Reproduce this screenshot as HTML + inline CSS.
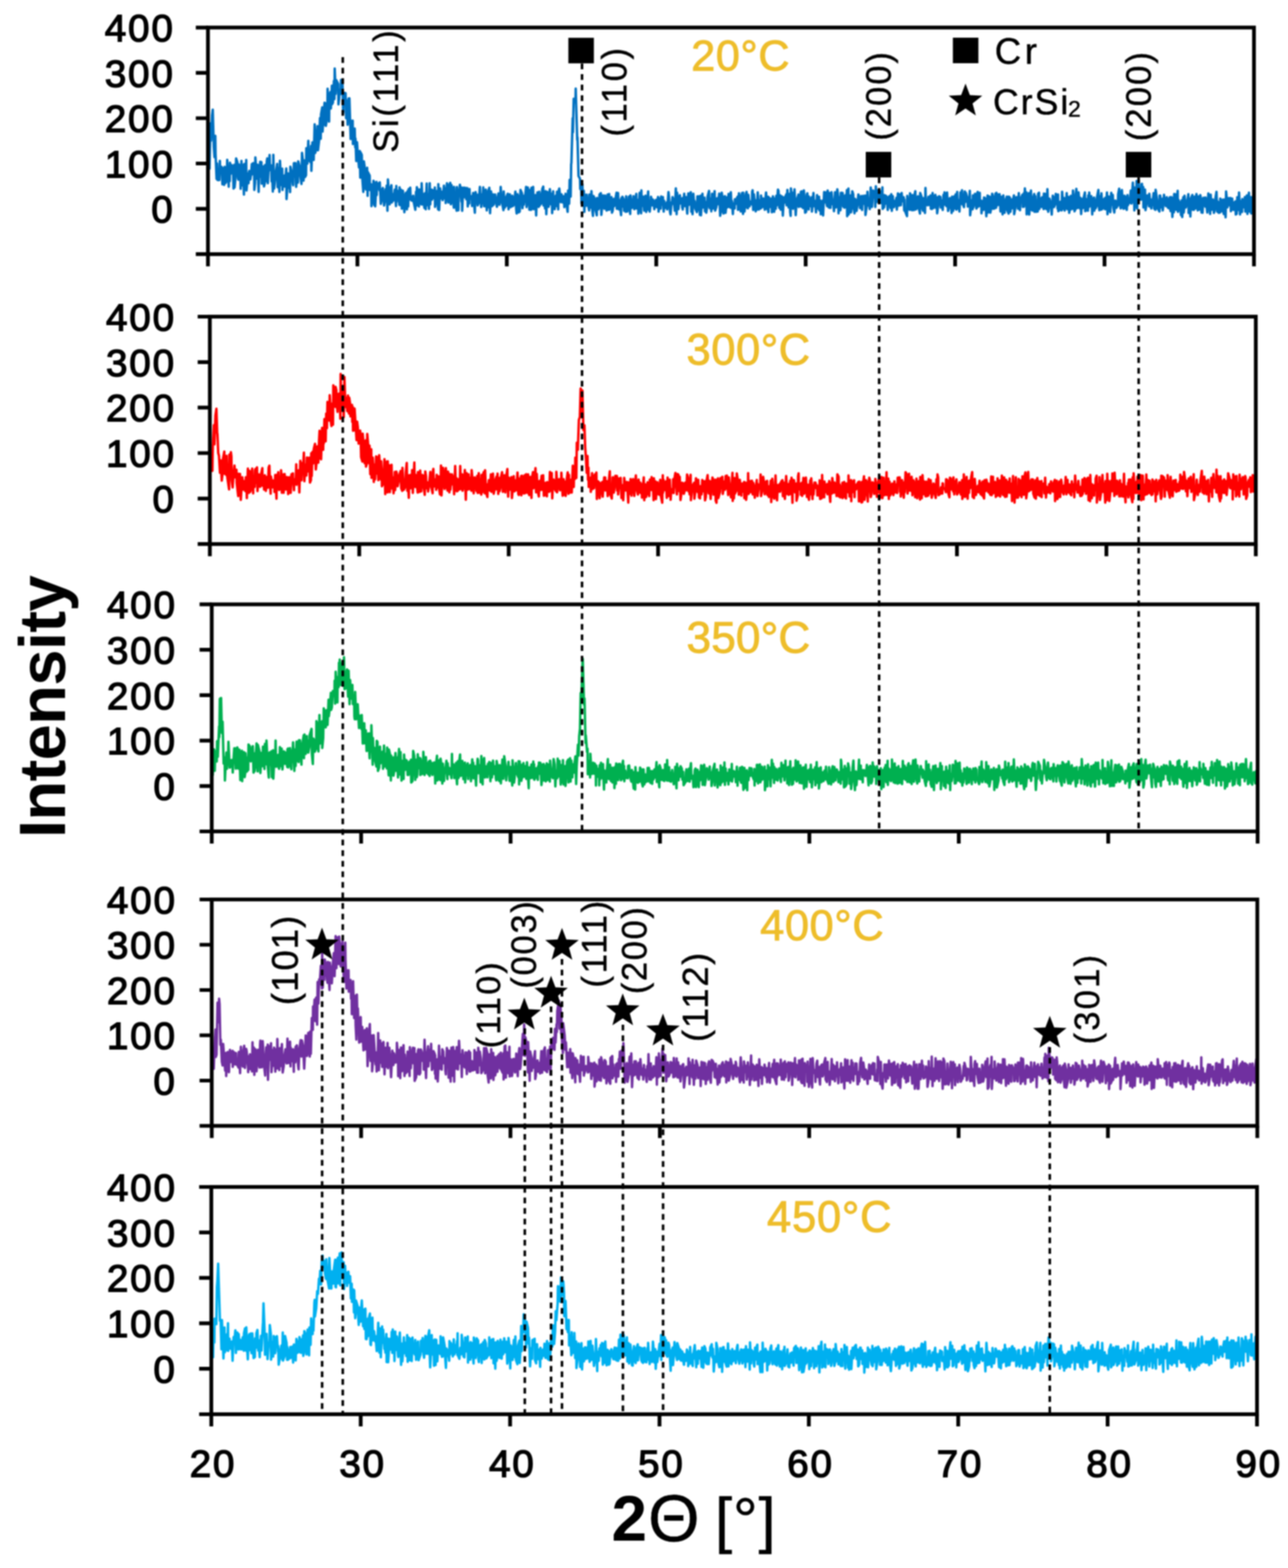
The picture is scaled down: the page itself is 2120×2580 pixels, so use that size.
<!DOCTYPE html>
<html><head><meta charset="utf-8"><title>XRD patterns</title>
<style>html,body{margin:0;padding:0;background:#fff;}svg{display:block;filter:blur(1px);}</style></head><body>
<svg width="2120" height="2580" viewBox="0 0 2120 2580" font-family="'Liberation Sans', Arial, sans-serif">
<rect width="2120" height="2580" fill="#fff"/>
<defs>
<clipPath id="c0"><rect x="342.3" y="45.3" width="1721.7" height="372.9"/></clipPath>
<clipPath id="c1"><rect x="345.4" y="521.0" width="1721.6" height="374.2"/></clipPath>
<clipPath id="c2"><rect x="348.5" y="994.4" width="1721.5" height="373.6"/></clipPath>
<clipPath id="c3"><rect x="348.5" y="1480.0" width="1721.0" height="372.5"/></clipPath>
<clipPath id="c4"><rect x="347.8" y="1953.0" width="1721.2" height="374.0"/></clipPath>
</defs>
<path clip-path="url(#c0)" d="M342.3 294.6l.4 -36.8 2.1 19.8 1.7 -74.6 .8 28.4 1.7 -41.7 1.2 -9.1 1.7 60.7 1.2 17.2 1.3 -35 .4 29.6 1.7 41.3 .8 -25.4 .9 27.3 2.9 0 .8 -31.6 .4 16.7 2.1 -5.8 .4 -1 1.3 28.7 1.6 -26.5 1.3 27.4 .8 -29.8 1.3 26.8 2.1 -3.8 .8 -34.4 2.5 44.2 .4 -33.5 1.3 24.3 .4 -30.2 1.2 18.2 1.3 -14.5 2.5 8.7 .8 30.1 .9 -39.1 .8 37.4 1.7 -18.1 .8 -29.8 2.1 5.9 1.2 26.9 .5 2.1 .8 -25.1 2.1 7.9 .8 32.2 1.3 -45.8 1.2 40.3 1.3 -33.9 1.6 48.9 .9 -50.3 1.6 34 1.3 -40.5 .4 50.2 2.5 -28.2 .8 16.3 1.3 -20.4 1.7 14 1.2 -8.1 1.3 -17.2 .8 16.9 1.3 -18.4 1.6 .4 .4 43.6 1.3 -11.3 .4 -42.2 2.5 35 1.3 -23 1.6 44.8 .9 -38.6 1.2 13.7 .4 -24.5 2.1 .4 .4 35.6 2.5 -28.3 1.3 32.7 1.2 -4.8 .5 -30.4 2.1 26.5 .8 -32.7 .8 -4.7 .9 40.9 2.9 -46.5 .8 24.7 2.1 -7.5 .4 26.2 .4 -18.8 1.7 35.6 .8 -60.4 1.3 55.5 1.2 -10.9 2.1 -18.7 1.7 -10.9 .8 38.1 1.3 -31.3 .8 29 .8 10.2 .9 -51.3 2.1 40 1.6 -27 .5 35 1.2 -18.8 2.1 -4.8 .4 18 2.5 -29.7 .4 50.4 .9 -12.3 1.6 -30 1.7 23.8 .4 -19.5 1.3 26.5 .4 -41.9 2.1 9.3 2.1 19.6 .4 1.6 1.2 -36.2 2.9 0 .5 32.8 .4 6.1 1.6 -29.2 1.3 22.2 .4 -35 2.9 10.5 .5 11.7 2 15.1 .9 -51.2 1.6 13.3 .9 32.4 1.6 -33.1 .9 27.2 1.6 -3 .5 -44.5 1.2 9.4 .4 16.1 1.7 -37.5 .8 30.6 2.5 4.3 1.3 -26.7 .4 41.1 1.7 -46.9 1.6 3 .5 26.1 1.6 -58.7 .9 47.2 1.6 -6 1.3 -25.7 .8 -12.5 .9 39.6 2 -17.1 1.3 -35.9 1.2 34 .5 -40.1 2 -11.5 .5 39.9 3.3 -47.4 .4 36.3 1.3 -35.3 .4 37 2.5 -15.7 .4 -45.4 2.5 54.1 .4 -38 1.7 -10.5 .8 26.9 1.7 -37.6 .4 30.4 1.3 -2.8 1.6 -35.5 .9 29.9 .4 -50.2 1.7 41.7 .8 -22.7 3.3 6.4 .4 33.7 1.3 -10.6 .4 -13.5 2.1 6.9 .4 -23 2.5 8.1 .9 38.6 .4 7.1 .4 -32.7 3.3 .6 .9 41.2 1.6 -29.1 .9 39.8 1.6 -43.1 .5 37.3 .8 -37.6 2.1 66.9 .4 -30.3 1.2 25.1 1.7 -25.1 .4 38.6 2.9 -25.5 .9 31 .4 -14.4 1.3 36.8 1.2 -31 1.3 19.5 2 22.1 1.3 -27 .8 43.7 .4 -41.6 2.1 4.3 .9 39.1 1.6 21.7 .9 -50.3 1.2 8.5 2.1 37.8 .8 -9.6 1.3 -26.1 .8 46.2 .4 -39.1 3 5.9 .4 23.7 2.1 -9.4 .4 36 2.9 -24.5 .4 -17.4 .9 1.9 .4 37.7 1.6 2.5 2.1 -40.2 .4 21.7 .5 -15.2 2.5 -3.9 1.6 11.2 .4 -13.1 1.7 35.5 1.3 -6.2 .8 -17 1.3 -3 2 28.8 1.7 -9.1 .8 -17.7 1.3 13.3 .4 -19 1.3 41.2 .8 -51.5 2.9 40.9 .9 -25.5 2 -5.8 .5 28.3 .8 -14.2 .8 11.8 1.3 -1.4 2.1 -17.3 2 26.9 .5 -32.9 .4 26.2 1.2 -18.5 2.1 2 1.3 21.2 .4 -28.7 .4 29.2 2.1 -25.2 1.2 31 1.7 -29.5 1.3 13.5 1.2 21.9 1.3 -24.9 1.2 -7.1 1.7 27.2 1.2 -30.1 .9 25.5 .8 -28.9 1.3 17.5 1.2 -19.7 .8 19 1.7 2.5 1.7 -6.9 .8 -1.1 .4 8.5 3 14.4 1.2 -29.6 .8 22.8 .5 -30.2 2.9 8.7 .4 23 1.2 -28 .9 19.1 2.1 5.4 .4 -34.9 1.7 35 .8 -17.4 2.1 23.2 1.2 -24.4 .9 26.5 1.6 -42.4 .9 35.7 1.2 -18.2 1.7 24.3 1.2 -42.3 .9 34.8 .8 -23.5 1.3 -.6 .8 16.4 1.7 -15.6 2 13.3 .9 -17.6 .4 31.8 2.5 -26.2 1.2 13.4 1.3 16.8 .4 -41.5 1.3 42.7 1.6 -35.7 1.3 16.5 .4 -11.5 2.1 4.2 .4 10.2 2.1 -23.9 .4 20.7 2.1 -16.1 .4 24.1 2.1 -32.6 1.7 27.5 .8 4.3 .4 -27 2.5 -5.5 .9 35.3 .8 -3.6 .4 -27.9 3.8 37.2 .4 -34.2 .4 3.6 .4 12.7 3.4 22.9 .4 -39 2.5 38.1 .4 -33.2 .4 8.4 1.7 -17.1 2.5 27.9 .4 -23.4 .8 38.3 1.7 -37.6 1.7 -.4 .4 15.8 2.1 -15.4 .8 18.6 1.7 -18.2 .8 30.2 2.1 -15.4 .4 10.4 .4 -23.8 .4 16.8 3.4 -5.1 .4 16.2 .8 -3.9 .9 -17.5 2.9 32.5 .8 -33.5 .4 -.5 1.7 18 .8 -13.8 .9 17.8 1.6 -3.7 2.1 -26.9 2.1 33.2 .4 -20.8 1.7 2.5 .4 12.4 .9 -26.4 1.2 30.9 2.5 -.1 .4 -27.2 1.7 34.3 1.2 -15.7 .5 10.6 .4 -25.7 2.1 -6.4 1.2 41.8 1.7 -35.7 1.7 24.2 1.6 -19.6 .9 17.3 1.2 -7 1.3 -10 .8 6.2 1.3 9.5 .8 4.5 1.7 -16.3 .8 -5.6 1.7 18.7 1.2 -6.9 .8 -22.6 1.3 16.5 1.7 13.5 1.6 8.3 .4 -30.8 1.7 26.8 1.3 -17.1 .8 14.3 1.3 -16.6 1.6 -3.5 1.3 25.5 .8 -7.6 1.3 -17 1.6 21 1.3 -16.1 1.2 -2.5 .9 16.9 1.6 -2.1 1.7 -14.2 .8 -7.5 1.3 28.8 .8 7.2 1.3 -31.7 1.6 5 .5 24.9 1.6 -1.4 1.3 -35.5 2.5 5.5 .8 24.5 1.3 -20.4 .8 14.8 .8 -15.1 .5 10.3 2.5 -24.7 .8 33.2 2.1 -32.2 1.2 28.2 .9 -24.1 .4 32.5 2.9 .1 .4 -36.2 1.7 34.3 1.2 -35.9 .9 36.8 1.2 -18.6 1.7 -4.5 1.2 33.4 .5 -15.5 1.6 -22.5 2.1 24 .9 -24.9 .8 22.5 .8 -18.5 1.3 16 2.1 -24.9 1.6 -3.6 .4 31 2.1 -14 .4 18.9 .9 -28.4 1.2 37.9 1.7 -36.7 .8 21.3 1.3 3 2.1 -28.9 1.2 24.7 .4 -17.6 1.7 9.6 .4 22.8 1.7 -35.9 .4 28.7 2.1 .7 1.7 -22.3 1.2 17.1 .9 -23.6 2 29.1 .5 -29.8 1.2 -4.5 2.1 18.8 .4 3.8 1.3 -13.1 2.1 13.5 1.2 -10.1 .4 .6 .9 17.1 2 -22.1 1.3 15.8 2.1 14.1 .8 -35.1 1.7 21.7 .8 -39.2 1.7 27.5 .8 -53 .4 -2.5 2.1 -73.5 .4 23.2 1.3 -55.1 2.9 5.4 .4 -22.2 .4 14.5 2.1 69.9 .4 -4.1 1.7 63.4 2.5 4.8 .4 16.6 1.3 -10.6 .8 34.7 1.3 -32.3 1.6 34.9 .9 -23.6 .8 34.6 1.3 -28.2 2 18.1 .5 -18.2 1.6 12.7 2.5 13.2 .5 -26.3 .8 12 1.7 9.8 .8 -27.1 1.7 34.1 .8 6.5 .8 -32.8 2.1 4.5 .4 14.9 3 12.5 .4 -28.5 .8 1.3 1.3 17.5 .8 -1.9 1.2 -22.6 2.1 -2.3 .9 35.8 1.2 -12.9 1.7 -19.3 1.7 2.5 .4 19.5 1.2 -21.7 1.3 16.2 1.2 8.5 1.7 -26.4 1.2 25.2 1.3 -25.9 .4 25.7 .4 -18.5 2.9 -2.1 .9 25.5 1.2 -3.3 1.7 -19.3 .4 4.2 .4 7.7 3.8 -22.2 .4 26.5 1.7 -3.2 .4 -22.8 1.2 27 .5 -15.6 3.3 25.1 .4 -27.9 .4 15.1 1.3 -17.5 2.1 4.2 .8 18.9 2.1 -17.9 .4 19.6 .8 -25.4 2.1 24.9 2.1 -14.7 .4 -9.7 2.1 28.4 .4 -30.5 .9 7.5 1.2 13.2 2.1 -5.2 .8 -14.3 .5 8.5 .8 13 3.3 -25.2 .5 24.1 2 -7 .5 -7.2 .4 22.7 2.1 -34.3 .8 19.2 1.7 14.6 .4 -37.9 .4 26.2 2.5 -16 1.7 23.2 1.6 -2.2 .5 -22.5 .8 5.9 .4 20.9 3.3 -33.7 .5 30.1 .8 -9 1.2 12.2 1.3 -10.6 .8 -14 2.5 14.2 .5 -9.7 1.2 2.5 1.3 13.5 2.5 -15.2 .8 11.4 .8 .5 1.7 -15.7 .4 -1.1 .8 24.2 2.1 -21.5 1.3 16.5 .8 -20.1 2.1 13.2 .8 -12.2 1.3 23.9 .8 -17.7 1.3 11.9 2.1 -3.9 1.2 -5.7 .4 11.9 2.1 -28.6 .8 7.4 1.7 25.3 .9 4 1.6 -19.6 .4 3.3 1.3 -12.1 1.7 4.8 1.6 13.1 .4 4.5 1.7 -36.8 1.3 42.5 .8 -35.4 2.1 27.3 1.2 -12.2 1.3 -10.8 .8 13.4 2.5 -8 .4 14.9 .5 -15.5 .4 18.6 2.5 -26 .8 20.4 2.1 -14.8 1.3 19.1 .8 8.2 1.7 -33.3 .8 18.8 .4 -15.8 2.9 -5 .9 32.1 .8 -23.6 1.2 27.7 1.3 -33.7 1.3 17.9 .8 -6 1.2 12.7 2.5 5.5 .9 -25.8 1.6 22.4 .9 -22.4 1.6 30.5 .9 -27.5 .4 -4.1 .4 32.3 2.5 -35.5 .9 22.6 2.5 -16.1 .8 22.5 .8 -15.6 1.3 17.7 1.6 -11 .5 -15.3 2.5 -9.5 .8 26.3 .4 2.2 1.3 -15.3 1.2 20.4 1.3 -28.9 1.2 24.5 2.1 -14.3 .8 -14.6 .9 32.2 2.1 -6.4 .4 -13.6 1.6 -.6 .5 10 2.1 -17.4 1.6 36.5 2.1 -15.7 .4 -22.5 .9 5.5 1.2 26 .8 2.9 1.3 -27.6 1.2 -.8 .9 27.4 2.9 -25.8 .4 16.6 1.7 -22 .4 20.3 2.1 2 1.2 -25.1 1.3 26.2 .4 -12.1 1.7 21.8 .8 -17.4 2.1 8.2 .4 -15.2 1.7 7.7 1.7 -9.8 1.2 -2.2 .4 21.7 1.7 -27.3 1.7 27.2 .8 -23.4 .4 26.2 2.1 -30.4 1.7 34.5 .4 -34.9 2.1 30.9 .8 -12.3 1.7 -17.2 .8 -2.8 .8 25.8 1.3 1.1 .8 -22 2.1 18.8 .4 -8.2 3.4 5.2 .4 -20.7 .8 -2.6 .9 32.4 1.2 -25.7 1.7 15.5 1.2 12.5 1.7 -18.5 .4 15.6 1.3 -28.5 2 28.4 .5 -15.4 2.5 13.6 .4 -21.3 .8 8.4 .9 10.8 2 -14.3 1.3 11.6 1.2 6.9 1.7 -24.7 .4 -3.7 2.1 27.9 1.3 -20.9 .4 25.4 1.2 -24.1 1.7 15.6 2.1 -13.9 .8 22.5 1.3 -3.6 .4 -22.7 2.1 25.5 .4 -21.7 2.1 17 .8 -21.4 .9 15.9 2 -26.3 .9 2.3 1.2 27.8 1.7 -20.6 .8 23.7 2.1 -21.9 .8 15.5 .5 16 1.6 -29.8 1.7 8.3 .8 -9.7 1.7 -3.8 .4 18.1 1.3 -25.3 2.1 28.8 1.6 -22.3 .9 29.9 .8 6.4 .4 -45.4 3.4 33.5 .4 -26.5 1.2 16.5 .9 -21.9 .8 15.6 1.2 26.9 1.3 -20.2 1.2 -6.8 2.1 -6.9 .4 20.3 3 -4.6 .4 -20.1 .8 24.5 .4 -25.5 2.5 27.8 1.3 -29.3 .8 8.7 1.3 28 1.6 -1.2 1.3 -28.4 .8 -2.2 .4 24.9 1.7 1.7 .4 -21.4 3 16.1 1.2 -11.6 .4 -3.4 .4 23.7 2.5 -30.5 .9 21.6 1.6 -8.7 1.7 18.9 1.7 -28.5 .4 13 1.7 9.4 1.2 -19.5 .4 22.1 1.3 -16.3 1.2 23 1.7 -21 1.7 -1.8 .4 24.7 1.7 -38.4 .8 17 1.7 -16.6 1.6 19.3 .9 3.4 .8 -25.8 2.1 28.2 .8 -24.2 1.7 24.6 .4 -19.5 1.3 -6.2 2 20 .5 -6.2 1.6 17.5 1.7 -31.3 .4 24.2 1.3 .8 2.1 -29.9 1.2 10.5 .8 29 .9 -26.4 2.1 21.5 .4 -2.8 .4 -26 2.9 .4 .9 22 2 2.1 .5 -19.3 .8 -1 .8 19.6 2.1 -28.3 .4 43 2.1 -45.4 .4 42.6 3 -31.3 .8 27.9 .8 -5 1.3 -29.8 1.6 5.1 .5 18.2 1.6 13 .9 -23.8 1.6 2.6 .9 17.3 1.2 -8.7 1.7 -18.5 .8 1.9 2.1 20.7 .4 -.9 1.7 -19.1 1.2 22.9 .9 -19.8 1.2 -3.3 2.1 13.7 .8 -14.3 .5 32 2.5 -17.2 .8 -21.1 1.3 22.7 .8 -8.8 1.7 14.6 1.6 -35.5 1.3 13 .8 19 1.3 -16.6 .4 -10.4 3.3 3 .4 24.1 .9 -33.9 1.6 26 1.3 -19.3 1.2 15.7 .5 -15.2 2 19.4 .9 -18.1 1.6 19.1 1.7 -25.9 .4 35.4 2.5 -2.9 .5 -19.9 .8 15 1.2 -13.9 2.1 2.2 .9 16.7 .4 4.6 1.2 -18.6 1.7 -4.3 1.7 19.7 1.2 -22.7 .9 27.3 1.6 -24.1 .9 15.5 1.2 2.5 .4 -10.4 1.7 7.2 1.7 -12.1 .8 19.4 1.7 -26.7 1.2 1.8 .4 18.5 2.5 -18.9 .9 18.1 1.2 -20.3 .9 13.5 2.5 -6.4 .8 21.8 .4 -18 .4 17.4 3.8 9.9 .4 -33.4 .4 3.9 1.3 14.3 2.1 4.7 .8 -27.1 1.2 6 .9 21.1 1.2 .8 .4 -25 2.5 24.9 1.3 -26 1.2 -5.2 .5 30.1 1.6 -1.3 2.1 -20.5 .4 9.3 1.7 13.2 1.3 6 .4 -33.8 2.1 5.5 .8 17.5 1.7 6 .4 -20.7 2.9 24.6 .8 -41.2 .5 18.7 .8 7.7 1.7 2 2 -13.9 .9 13.5 .4 -10.1 2.1 -5.6 .4 21.8 1.7 .5 1.2 -26.3 1.7 24.7 .8 -18.7 2.1 -2.9 1.3 21.8 .8 -18 .8 26.4 2.1 -15.6 .8 -12.4 2.5 1.1 .5 17.4 .4 -4 .4 -8.1 2.5 16.1 1.3 -24.9 .8 16.5 .8 -20.4 2.9 22.4 .5 -18.2 .8 -4.1 1.7 30.4 2.5 -7.8 .4 -13.4 .4 12.6 1.3 -11.9 1.2 23.9 .8 -26.9 1.7 23.5 2.1 -24.4 1.2 20.2 .9 -23.1 1.2 25.2 1.3 -29.2 .8 27.2 .9 -13.7 2 18.8 1.7 -31.5 2.1 19.2 .4 -22.9 .8 13.9 .9 9.8 1.6 4.2 1.3 -25.9 .8 17.5 .9 -15.4 2.5 8.3 .8 14.6 2.1 -5.9 .8 -12.1 .4 -8 .5 40.3 2.9 -25 1.2 15.1 .4 -22.8 .9 20 1.7 -10.4 .8 -12.2 2.5 24.4 .8 -24.2 1.3 -3.3 .4 24.7 2.9 -23.3 .4 21.8 2.1 -8.8 .4 20.8 .9 -11 1.2 -9.5 1.3 15 .8 -20.6 1.7 1.2 2.1 29.7 .8 -16.5 1.2 -17.6 .9 28 1.6 -26.6 1.7 1 .4 25.8 1.7 -9.9 1.3 -21.3 1.2 4 .4 20.8 2.5 -.7 1.3 -24.4 1.2 23.3 .4 -24.5 1.7 20.5 1.3 -17.6 1.2 17 .9 -17.6 1.6 28.5 1.3 -24.3 2.1 29 .8 -23.5 .4 -7.6 2.1 28.5 .4 -10.9 1.3 -9.1 2 -6.6 .5 22.1 2.5 5.9 .4 -28 1.7 1.8 .8 23.3 2.1 -20.4 .4 14.7 .8 -1.1 .9 -12.1 1.6 -8.2 .4 30.9 2.1 -11.6 1.3 -16.4 2.1 .3 .8 18.7 1.3 -25.6 .4 19.9 1.6 8.2 .5 -17.7 3.3 -7.6 .8 19.9 1.7 -22.4 .4 21.8 1.3 -29.8 1.6 26.2 .9 -19.8 .4 36.3 1.7 -13.7 2 -21.3 .5 35.3 2 -23.9 .9 -15.6 .4 31 2.1 1.9 .4 -19.2 2.5 -8.1 .4 29.3 1.3 -25.9 1.6 25.8 2.5 -.4 .5 -29.1 1.6 -1.8 .4 27 1.7 -17.7 .9 13.6 .8 .4 1.2 -16 2.5 19.7 .5 -25.5 1.6 24.3 .4 -23.9 2.1 6 .4 19.3 1.3 -33.1 1.3 37.3 1.2 -7.1 .8 -14.7 2.5 9.6 1.3 16.8 1.7 -31.1 .4 18.5 .8 -16.6 .8 16.8 2.1 -4.9 .9 -16.9 2.5 6.1 .4 18.1 .8 -23 .4 27.4 2.5 -2.3 .9 -13.2 2.1 14.2 .8 -30.8 2.1 28.2 .4 -12.1 1.2 -5.6 .5 20.5 2.1 -10.1 1.2 -18.6 1.3 26.5 .8 -20.5 2.1 26.5 1.2 -26.3 .4 21.7 .9 -23.4 2.5 21.6 1.2 -30.4 .9 8.5 1.6 25.8 1.7 -3.8 .4 -22.6 .9 -10.6 2 31.6 .5 -3.7 1.2 -22 2.1 26.2 .8 -17.3 1.3 26.7 1.7 -25 1.2 15.2 .8 -14.9 2.5 -10.9 .5 30.9 1.6 -1.2 .4 -18.9 2.5 19.3 .5 -25.1 1.2 19 .4 -23.8 1.7 22.1 1.7 -16.1 1.6 30 .5 -25 2.5 -2.8 .4 21.7 .8 -17.9 1.3 14.2 1.6 -3.9 .4 -12.8 2.6 -13.8 .4 23.3 1.2 10.2 .9 -23.2 2 22.3 .5 -27 1.2 18.5 .4 7.2 2.9 -16.6 1.3 16.9 .4 -18.7 1.3 18.9 1.6 -27.5 .9 35.8 2.1 -29.3 1.2 20.5 1.3 5.3 1.2 -25.6 .4 -6.3 .9 19.5 1.6 -15.9 .9 20.6 1.6 8.3 1.7 -19.7 1.3 1.6 .4 10.4 2.5 -4.3 .4 -17.9 1.7 -9.4 1.2 25.6 1.3 6.9 1.2 -25.9 .8 -4.2 1.7 28.7 .9 1.9 1.6 -21.4 .9 20.8 2 -18.9 .9 21.4 1.2 -24.2 .9 16.5 .4 -6.1 2.1 2.5 2.1 -20.5 .4 5.7 .8 15.7 2.1 -34.3 .8 32.2 1.3 -24.6 .4 38 3.3 -31.3 .4 -17.1 .9 45.2 1.2 -34.5 1.3 -12.2 .8 31 2.5 1.3 1.3 -25.8 .8 -.3 .8 25.6 1.3 -20.4 .4 33.9 2.5 -29.7 .8 33.9 2.1 -12.3 .9 -11.9 2.1 2 .8 15.9 .4 -20.8 1.7 15 1.6 9.3 .5 -14.6 1.2 9.1 2.1 -19.7 .4 2.5 .4 22.7 2.1 2.2 .4 -33 2.5 16.8 .9 13.9 2.9 5 .4 -26.2 .8 0 1.3 19.7 2.5 -14.3 .4 19.2 .4 -2.9 1.7 -22.9 .8 7.3 2.1 11.2 1.7 -14.5 .4 13.7 1.7 3.7 1.2 -14.8 1.3 16.2 .4 -18.9 1.2 22.9 1.3 -23.1 1.7 32.8 1.6 -31.5 .9 23.8 .4 -30 2.5 .7 .8 25.3 2.5 -31.2 .4 34.3 .5 -2 .4 -17.4 2.1 4.5 2.1 20.5 1.2 -24.4 .8 27.5 1.7 -32.5 .8 25.1 .9 -10.1 .4 -17.5 2.1 19.4 2.1 -8 2.1 -13.9 .4 30.9 .8 -7.8 1.7 -11.9 .4 25.4 .8 -29.8 2.5 -5.6 .4 24.2 2.1 .3 1.3 -21.9 .8 7.7 .4 11.9 1.7 -23.8 2.1 27 .8 -22.9 .4 19.7 1.7 1.8 1.3 -23.8 1.6 9.1 .4 19.5 1.7 .4 1.3 -24.6 2.9 0 .4 14.5 .4 -14.8 1.7 14.3 1.2 10.3 1.7 -31.5 .8 24.1 .9 -10.7 1.2 20.3 .9 -31.7 1.6 25.1 2.1 -17.1 .4 2.7 1.3 19.4 1.7 -6.8 .8 -17.9 1.7 -10 1.2 32.6 .8 -16.8 1.7 18.8 2.1 -.6 .4 -22.8 1.3 3.1 1.2 17.5 1.7 -18.8 .8 20.2 .9 3.3 .4 -23.8 2.5 29.2 .8 -42.6 1.7 17.8 .4 8.6 2.1 -15.2 1.2 11.7 1.7 -12.1 .8 21.9 2.1 -20.9 .9 18 1.2 .6 .8 -11.2 2.5 -2.8 .5 21.6 1.6 -1.1 .9 -27.4 .4 4.3 1.7 16.8 .8 -28.8 1.7 36.1 .8 -22.1 1.2 12.6 1.3 5.4 .4 -21.2 2.5 13.6 1.7 -16.8 .8 23.9 1.7 -20.7 .8 -6 .9 30.5 2.5 -35 .8 26.1 .4 5 1.7 -23.9 .8 27 1.7 -26.4 1.2 15 .4 -18" fill="none" stroke="#0070C0" stroke-width="4.0" stroke-linejoin="round"/>
<path clip-path="url(#c1)" d="M346.7 755.9l.8 13.6 2.1 5.2 .4 -27.3 .4 -14.4 1.7 -33.4 .8 31.5 1.7 -47.2 1.6 -11.3 1.3 39.8 .4 1.7 1.3 31.3 1.2 4.3 1.7 28.3 1.2 -20.5 1.7 33.3 1.3 -10.9 .8 -25.3 2.1 -11.6 .8 36.8 2.1 -27.4 .4 29.2 .4 -31.7 1.3 35.8 2.9 19.5 .4 -57.2 1.3 29.5 1.2 -33.5 .9 7 .4 38.9 1.6 12.2 1.7 -24.3 1.3 -11.7 1.6 19.4 1.7 -12.5 .4 21.6 2.5 21.6 .4 -36.7 2.1 28 .4 -27.7 .5 16.1 .8 26.6 2.5 -37.3 1.2 17.4 .5 3.2 .4 -14.5 2.9 16.8 .8 -22.8 .9 3.3 .8 31 1.7 -48.5 1.6 39.9 1.3 -36.3 .8 34.7 2.5 -8.5 .9 -30 1.6 40.8 .5 -26.6 2 16.2 .5 -27.3 .8 -2.4 2.1 23.3 .4 -25.9 .8 39 2.1 -27.5 .8 19.9 1.7 .5 1.3 -20.9 2.1 -9.7 .4 28.8 1.2 -9.9 1.3 16.4 1.2 -23.7 1.7 25.8 1.7 -23 .8 8.7 .8 9.2 1.3 -33.2 1.2 -3.2 .9 29.7 1.2 16.4 .4 -28.3 3 17.9 .4 -11.3 2.1 1.2 .4 17.7 1.2 -27.9 2.1 39 .4 -39.4 1.3 20.7 1.2 -25 1.3 29.2 2.5 -1.9 .8 -30.4 .9 12.6 .4 24.4 2.5 -30.4 .4 30.4 1.7 -30.7 1.2 20.6 .8 4.8 1.3 -20.4 1.2 .2 1.3 27.6 1.3 -2.9 .8 -24.8 2.1 25.8 1.2 -30.5 2.5 -1.5 .4 12.6 1.3 15 .4 -18.2 2.5 6.5 .8 -30.8 .5 33.6 1.6 -22.4 1.7 -1.4 1.3 36.3 1.6 -51.9 .4 25.6 1.7 6.2 1.3 -28.3 .8 15.8 1.7 -32.8 .8 47 1.7 -27 1.6 17.6 .9 -29.7 1.2 23.1 1.3 -20.5 1.2 -2.3 1.3 41 1.6 -4 .5 -44.2 .8 37.3 1.2 -39.5 1.3 18.8 .8 -23.1 2.1 -9.1 1.3 42.3 .8 -7.4 1.7 -30.6 1.6 26.8 1.3 -37.3 .8 -15.2 .4 44 2.1 2.8 1.7 -51.7 1.7 36.2 .8 -27.9 .4 17 .9 -39.6 2 36.5 .9 -45.6 1.2 23.9 .9 -43.1 2.9 30.7 .8 -41.8 .8 13.2 1.3 31.9 .8 5.7 1.3 -37 1.2 34.8 .5 -64.8 3.3 35.4 .4 -32.8 1.3 5.1 .8 23.4 1.2 12.6 .9 -29.4 2.5 -.8 1.2 41.4 .5 -73.7 1.2 60.2 1.7 -7 1.2 -33.3 .9 51.4 1.2 -66.2 1.7 49.1 1.2 -14.9 1.7 21.9 1.2 -25.6 1.7 29.7 .4 -26.2 1.7 11.2 .4 19.6 2.5 -18.9 .4 28.1 .9 -24.5 .4 39 2.1 -1.9 .4 -34.7 3.3 52 .9 -30.4 1.2 9.3 1.3 26.8 1.2 -1.6 1.3 -19.7 .8 8.9 .8 34.7 2.1 7.3 .4 -46 1.7 16.8 1.7 31.9 1.7 -37.6 .4 43.2 1.2 -3.8 .9 -49.9 2.5 29.8 .4 18.2 .8 -28.8 1.3 47 1.6 -41 .4 46.9 2.1 -33.2 1.7 39.9 .8 -28.3 1.3 24.1 1.7 -37.8 .8 28.2 1.2 -26.8 1.7 37.8 .8 -12.1 .5 -29.1 2.9 40.3 .4 -30.3 .8 14 .4 27.1 2.6 -5.1 1.6 -39.5 1.3 57.5 .4 -49.2 2.1 -4 1.2 50.6 .4 -51.4 1.3 38.4 1.2 -31.9 .9 44.4 2.9 -45 .8 38.9 .5 -18.4 2 26.4 2.1 -35.3 .4 30.1 1.3 -13.9 .8 -16.6 1.7 7.9 .4 16.1 2.5 -12.2 .8 -7.9 1.7 -4.9 .9 28.4 1.6 4.2 .4 -37.8 .9 15.3 1.2 21 2.5 -5.2 .9 -23.5 1.6 -15.7 .9 45.7 .4 -22.4 2.1 34.1 .4 -37 2.1 21.5 .4 -22.1 2.1 19.7 .4 -27.7 1.2 37.4 2.5 -49.8 .5 35.6 1.2 4.6 .8 -19.9 3 29.2 .4 -33.9 1.2 9.7 1.3 23 .4 -16.5 .8 -18.7 1.7 34.4 1.7 -27.1 1.6 1.1 .5 16 2 15.7 .9 -38.5 1.2 7.4 .9 20.3 1.6 -9.7 .9 14.9 1.6 -10.1 1.7 -18.3 .4 -3.7 .9 21.6 2.9 13.4 .4 -35.9 .8 -4.2 .9 29.3 3.3 -12.6 .4 17.7 .9 -24.6 .4 21.5 2.5 -19 .4 16.2 2.1 13.5 1.2 -22.1 .4 -25.5 .9 49.3 2.5 -45.4 1.2 24.7 1.3 9.9 .4 -19.9 1.7 -14.3 1.2 29.4 1.7 7.7 .8 -31.4 2.1 34.2 .8 -30 .9 25.6 1.6 -17.6 .5 8.9 .4 -16.6 2.5 7.6 1.2 25.2 1.7 -46.4 1.3 40.5 1.2 -20.2 .4 21.4 1.7 -1.3 1.2 -18.6 1.7 16.6 .8 -38.5 1.3 37.8 1.3 -22.5 .8 -1.5 .4 27 2.5 -9.1 1.3 -25.1 1.6 49 1.3 -43.8 1.2 3.1 .4 24.1 1.7 -25.3 1.3 24.5 2.1 -19 .4 15.9 .8 5.6 .4 -34 3.4 38.3 .8 -25.5 .8 -.7 1.3 7.4 1.6 15 1.3 -24.8 .8 28 1.7 -32.5 1.3 32.1 .8 -22.3 2.1 25.4 .4 -32.4 1.2 28.8 .9 -27.8 1.6 -5.6 1.7 34.9 .4 -37.9 1.7 36.7 2.1 7.3 .8 -21 .4 7.8 1.3 -14.7 1.7 17.4 1.6 -26.8 .9 28.7 .8 -26.4 1.7 -3.4 1.2 33 1.7 -7.9 1.2 -14.9 1.7 -5.2 .4 20.8 1.3 -25.9 1.2 33.5 1.7 -26.3 .4 21.8 1.7 -7.4 .4 -15 2.1 -9 1.2 32.4 1.3 -4 1.2 -23.4 1.7 28.3 .8 -22.9 2.5 -15.6 .5 22.7 .8 22.7 1.2 -31.1 1.3 3.8 .4 15.9 2.5 -20.8 .8 34.6 1.7 -18.6 1.3 -17.3 1.2 24.9 .4 -18.6 2.1 3.2 .4 13.7 2.1 -29.3 1.3 35.4 .4 -25.8 .4 27.3 3.8 -31.1 .4 31.7 .4 -2.7 .8 -29.6 3 29.4 .4 -19.3 .8 -10.9 1.3 29.4 1.2 -31 .4 12.7 2.5 18.3 .4 -30.7 1.7 34 1.7 -29.8 2.1 34.5 .8 -33.1 1.7 -9.5 .8 26.7 .4 -2.2 1.7 -16.1 1.2 -14.9 .9 39.9 1.2 -30.4 1.7 29.2 1.7 8 1.2 -25.7 1.3 15.2 1.2 -14.9 .9 -8.7 1.2 23.2 1.3 -24.1 1.2 33.8 2.5 -21.2 .4 20 2.1 2 .4 -23.2 .5 9.4 2 -9 .9 15.6 1.2 -32.8 2.1 30.8 .8 -29.1 .9 41.7 1.2 -28.5 1.3 -2.2 .4 13.6 3.3 5.5 .5 -32.1 .8 11.1 .4 22.8 3.3 -21.5 .5 8 1.2 10.1 1.3 -19.2 .4 11.4 .4 -21.2 2.1 38 1.6 -27.3 1.3 25.9 .8 -21.7 1.3 23.3 2.1 -30.1 1.2 -8.6 1.3 35.3 .8 -31.2 .8 25.9 1.3 3.3 .8 -21.1 1.7 21 1.7 -44.1 1.6 35 .5 -25 1.6 11.7 .4 -35 1.7 33.5 .8 -57.9 1.7 11.5 1.7 -49.1 1.6 -4.8 1.3 -47 2.1 5.8 .4 34.9 .4 -37.3 1.7 65.1 1.7 -8 1.2 36.6 1.3 18.9 1.2 22.7 1.3 -27.7 .8 39.3 .8 -19.9 .4 31.6 3 -15.1 .4 23.2 2.1 -30.7 .8 26.2 2.1 -21.7 .4 20.1 1.3 -22.6 1.6 17.4 .9 -20.4 .8 43.4 1.2 -12 .9 -17 2.1 2.5 .4 25.2 2.1 -15.9 1.2 -9.3 .9 -1.3 .8 24.1 2.5 -31.9 .8 18.6 .9 -18.2 .4 21.1 2.1 -15.1 1.6 24.5 .9 -3.6 .8 -20.5 1.7 -16.7 .4 36.5 2.9 8.3 1.3 -34.8 .4 -.2 1.6 25.3 1.3 -8 1.2 -19.7 2.6 .3 .4 24 .8 -20.7 .8 27 2.5 -26.3 .9 15.1 .8 -16 1.3 33.2 2 -21.2 .9 24.8 1.2 -20.5 .4 -16.4 2.6 20.7 .4 -13.5 1.2 11.7 .4 -12 2.1 33.8 .9 -33.2 1.6 18.9 1.3 -24.3 1.6 27.3 .9 -24.8 .8 19.4 .8 -21.9 2.1 27.6 1.7 -24.8 .8 -8.8 .9 19.8 2.5 11.6 .4 -21.9 .8 -2.7 .4 21.5 2.1 -16.6 .9 17.2 1.6 -14.8 .4 22.3 3 -33.2 .8 37.5 1.7 -26 .8 20.9 .8 -.6 2.1 -23.7 .9 19.4 .4 -16.2 1.6 19.5 .9 -27.1 2.5 17.1 .4 -21.3 2.1 13.3 1.2 24.7 .5 -36.1 1.2 25.4 1.3 -20.2 .8 29.1 2.5 -27.7 .4 19.3 1.3 -16.6 1.2 17.8 1.7 -24.4 1.2 27.2 2.1 10.3 .9 -45 .4 28.7 .8 -21.4 1.7 17.1 .8 -12.5 1.7 -2 1.2 27.2 1.3 -33.4 1.7 30.4 1.2 -7.9 .8 -19 1.3 33 1.2 -17.3 2.5 5.3 .5 -21.7 .8 22.6 .4 -18.6 2.5 -14.4 1.3 23.6 1.2 11.7 .9 -33.6 1.6 1.2 1.3 27 .8 -23.5 1.3 38.1 1.6 -11.5 .9 -17 2 1.2 .9 17.1 .8 -2.1 1.7 -16.4 1.7 12.8 1.2 -26.1 2.1 7.2 .4 20.8 .8 -20.7 .9 25.5 1.6 -32.3 .5 41.7 1.6 -13.2 .9 -10.5 2.9 -4.9 .4 26.3 1.7 -13.8 .8 -19.8 2.5 7.2 .4 15.6 .9 -20.4 1.2 29.3 1.7 1.3 .4 -20 2.1 13.4 1.2 -23.6 1.3 18.6 .8 -8.4 1.3 -8.3 1.2 31.6 1.3 -5.4 1.2 -27.3 1.7 -8.8 1.2 21.8 .5 8.2 .8 -20.7 2.5 29.8 1.3 -29.5 .4 16.9 1.2 -22.6 1.3 3.1 .4 25.2 3.3 -24.7 .4 34.2 1.3 3.8 1.2 -37.1 1.3 -3 .4 32.4 2.9 -10.4 .9 -22.7 1.2 16.8 1.3 -13 .4 -5.7 .8 28.1 3.4 -21.5 .4 14.5 .8 -22.4 .4 20.4 1.7 -21.3 2.1 32 1.2 -28.8 1.3 16.6 .4 -2.6 1.7 18.8 2.5 -40.4 .4 46.2 .4 -36.5 1.7 32.2 .8 -33.3 .4 26.2 2.9 -5.7 .5 -28.2 2.9 18.8 .4 16.2 1.3 -3.2 .4 -21.1 2.5 26 .4 -17.2 1.2 -2.8 1.3 13.4 1.7 -16.1 .4 26.9 2.5 -25.6 .4 28.2 2.1 -20.6 .8 8.8 .4 -32.2 .9 34.4 2.9 -21.2 .8 18.2 1.3 -7.7 .4 -11 1.2 22.4 .9 -19.1 1.6 6.9 .9 17.7 3.3 -29.2 .4 19.7 .5 -14 .4 20.8 2.5 -18.7 1.6 6.2 .9 -23 .8 35.4 2.5 -12.2 .9 -19.4 .8 5 1.7 23.6 1.2 -3.2 .8 -17.4 2.1 -1.3 .4 23.2 .9 -15 1.6 18.2 1.3 -5.3 1.7 -21.3 .8 35 1.7 -38.3 .8 6.8 .4 20.7 2.1 5.2 1.7 -25.1 .4 -13.2 1.2 33.2 1.3 7.9 1.2 -25.4 1.3 11 2.1 -12.9 .4 13.1 1.7 -16.3 2.1 -2.7 .8 26.3 1.2 -22.3 1.3 17.7 .8 9.2 1.7 -31.3 .4 -6.5 1.7 29.5 2.1 -16.3 .4 17.9 2.5 -23.4 .4 20.9 .4 1.2 1.3 -27 1.6 41.3 .5 -37.5 2 .4 1.7 19.9 2.1 -14.5 .4 28.3 2.1 -9.1 .4 -31 .9 -5.1 .4 26.7 2.9 -9.5 .4 18.2 1.7 -19.9 .4 21.7 2.1 -29.6 1.2 26.1 .4 -1.3 2.1 -24 .4 -1.2 1.7 31.7 1.7 -20.2 .8 21 .9 4 2 -31.9 .5 22.8 1.2 -26.3 2.1 34.1 .4 -22.9 1.3 15.6 1.6 -19.9 1.7 .4 1.3 9.2 1.2 -5 .4 16.7 2.1 -13.9 1.3 14.8 .4 -25.9 .8 30.7 2.9 -1.5 .4 -37.8 .9 31.4 1.2 -14.1 1.3 19.3 .4 -25.9 2.5 17.5 1.3 -10.7 .8 -2.5 .4 16.6 2.9 -21.7 .4 19.8 1.3 14.4 .8 -31.2 2.1 17.4 .4 -25.5 3 24.3 .8 -16.6 .4 2.8 2.1 10.7 .8 8.7 1.3 -35.9 2.1 4 .4 32.5 1.2 -19.7 1.3 21.4 1.2 -4.9 1.7 -13.9 .4 -5.6 .4 25.4 2.5 -26.5 .9 24 2.1 3 .4 -24.7 1.2 2 2.1 12.5 .4 -27.6 1.7 34.7 2.5 -27.1 .4 34.9 .4 -34.1 .9 19.5 2.1 -5.7 1.2 -14.3 .8 27.7 .5 -20.6 2 8 .9 -7.4 2.9 -4.8 .8 31.8 .9 -32.5 .4 28 2.9 6.2 .8 -33.6 .5 33.2 2 -35.7 .9 -6.8 .8 38.7 2.1 -13.9 .4 -18.6 2.1 7.4 .8 28 .9 -26.7 1.6 -12.5 .9 3.8 1.6 27.9 .9 -3.9 1.6 -20.4 1.7 1.7 1.3 17.5 1.2 -1 .8 -23.6 2.6 29.5 .4 -16.8 .8 10.2 .8 -18.2 2.5 -9 .9 35.6 .8 -8.4 1.7 -26 .4 12 .8 22.7 2.1 -33.7 1.3 28.8 2.5 -4.6 .4 -17.9 .4 -15.3 .4 37.6 2.5 -27.2 .9 33.6 1.2 -28.4 .8 22.8 2.5 -4.6 .9 -15 .8 3.1 1.3 15.8 1.6 -22.7 .9 18.5 1.6 -6.8 1.7 -7.4 .4 14.9 .9 -25.3 3.3 -.3 .4 23.5 .4 -19 .9 26.9 2.1 -27 .8 12.5 2.1 16.5 1.2 -25.8 .4 16.8 1.3 -33.1 1.7 2.8 1.6 32.4 .4 -2.7 2.1 -29.9 .9 27.6 .8 -13.2 1.7 13.9 .8 -23.3 1.3 30.4 1.6 -24.6 1.7 4.7 1.2 23.1 1.7 -10.4 .4 -20.3 1.3 32.4 1.6 -24.9 .9 -3 1.7 25 .4 5 .4 -37.2 2.5 35.1 1.2 -38.1 2.1 31.4 .9 -20.9 2 24.4 .5 -17.9 .8 -6.2 .4 23.9 2.9 -1.1 .5 -27 1.2 2.7 .4 20.9 1.7 -21.8 1.7 28.9 1.6 -7.2 1.3 -16.3 1.2 1.5 1.3 16.6 1.2 5.7 1.3 -30.8 .8 20.8 .9 -28.7 1.2 5 .4 29.2 2.9 -2.1 1.3 -11 2.1 10.4 .4 -16.8 .8 .4 .4 8.2 2.1 -.1 1.7 4.3 .4 1.7 .4 -21.3 2.1 1.4 .4 17.5 3 10.9 .8 -32.3 1.7 1.7 .4 17.6 1.2 -9.8 2.1 13.3 .4 -23.4 1.3 28 1.7 -21.4 1.2 10.1 .8 -13.4 .9 24.9 2.1 -3.5 1.6 -14.7 .4 -1.9 2.1 20.3 2.1 -23.9 .4 31 2.1 -16.9 .4 -23.4 1.3 17.1 .4 19.9 2.5 -1.5 .4 -31.4 1.7 35.9 1.2 -29.1 .9 19.6 1.2 -20.5 .9 12.7 1.6 -18.1 1.7 -8.5 .8 41.1 1.3 -29 .8 30.8 1.3 -31.5 2.1 26.3 1.2 -12.3 .4 6.8 1.3 -9.3 1.2 10.4 1.7 -18.9 1.7 22.1 2.1 -18.6 .4 20.7 .8 -23.1 1.3 25.1 1.2 2.8 .8 -30.2 1.7 18.1 1.3 -18.7 .8 4.5 2.1 16 .4 -14.4 1.3 14.8 2 3.9 1.3 -30.2 .4 13.9 .4 16.9 2.1 -30.3 .4 27.3 2.9 -18.8 1.3 24.8 1.3 -21.2 .8 14.5 .8 -24.1 .4 28.7 3 -25.1 .8 26.5 1.2 -5.8 1.7 -28.7 1.7 10.7 .4 21.2 1.7 -28.8 1.2 31.3 .4 .7 1.7 -28.1 .8 27.7 2.1 -24.5 1.3 4.4 .4 13.4 1.2 -23.3 .5 23.6 2.5 -15.1 .8 28.7 1.7 -41.1 .8 37.4 1.3 -28.1 .4 34.4 2.1 -41.8 .4 33.6 3.3 -.1 .8 -30.8 1.3 2.3 .4 24.6 1.7 -24.4 1.6 27.5 1.3 -34.2 .4 22.8 2.1 7.5 .4 -28 2.1 -8.8 1.3 42.7 1.2 -8.8 .8 -25.5 1.3 -9 1.2 31.7 1.7 -2 .4 -15.1 1.3 14.7 .8 -17.1 2.5 .2 .4 22.8 2.1 6.8 .9 -20.3 .8 -8.1 .4 30.3 2.5 -34 1.7 28 1.2 -22.5 1.3 24 .4 -1.7 2.1 -22.7 .4 26.4 .8 -22.4 3.4 .2 .4 16 1.2 -25.9 1.3 32.8 .4 -4.5 .4 -13.5 2.5 9.8 1.7 -11.7 .4 -2.3 1.7 15.3 1.2 -19.8 .9 14.3 2.5 2.5 .4 -13.5 2.5 -5.6 .4 34.9 1.3 -26.3 1.2 14.9 .4 -22.2 .9 30.2 2.5 -7 .8 -21.9 1.3 25.5 1.6 -28.5 .9 4.8 .4 12.6 2.9 6.7 .4 -14.5 1.3 10.5 1.6 -24.6 1.3 28.5 .4 -21.9 1.3 -1.7 .8 20.4 2.5 -13 .4 14.5 2.5 3.2 .8 -22.9 1.3 16.8 .8 -10.9 1.3 -1 .8 21.4 1.3 -35.8 1.6 23.2 1.3 -4.4 1.2 9.4 1.3 -19.4 1.2 14.7 2.1 10.3 .4 -14.9 1.7 14.4 1.3 -26.7 .4 24 2.1 -17.3 .4 12.4 .4 -21.7 2.5 26.1 1.7 -24.8 1.6 -1.7 .9 37.1 2.1 -28.2 .4 29.9 .4 -43.3 1.2 37.5 1.3 .6 .4 -22.9 3.4 18.8 .4 -17.3 1.6 8.5 .5 -19 1.6 -5 .4 44.2 2.5 -30.3 .9 13.2 .8 -24.7 .8 37.5 1.7 -10.5 1.3 -17.8 1.2 -12.9 1.3 28.2 1.6 -13.9 1.7 31.2 .4 -35.3 2.1 31.5 .8 -43.6 1.3 37.4 1.2 -25.3 .9 32.9 1.2 -10 2.1 -23.8 1.3 17.5 .4 -29.1 2.1 8.8 1.2 28.2 .4 -38.4 2.1 34 1.3 1.6 .8 -22.3 2.5 15.3 .4 -12.8 .5 23.3 1.2 -26.6 1.3 26.4 .4 -20.7 2.5 6.9 .8 14.3 1.7 -37.6 .8 25.5 1.7 21.5 .4 -26.2 2.5 14.2 1.3 -20.1 .4 24.1 .8 -29.3 2.5 -.1 .8 25.8 2.5 11.5 .5 -41.1 1.2 35.6 .4 -42.1 1.3 19.3 2.1 13.2 1.6 -19.1 .9 18.7 .4 -26.7 1.2 23.9 2.1 6.4 .4 -32.9 2.1 .4 .4 41.1 1.7 -11.1 .8 -29.6 1.3 39.3 .8 -24.4 2.1 16.9 1.7 -33.5 1.2 32.5 .5 -21.6 1.2 -1.7 .4 21.6 2.1 -20.4 .8 19.3 2.5 4.2 1.3 -25.5 .4 24 .9 -22 2.5 17.6 1.2 -16.7 .4 32.9 .9 -35.5 1.6 24 1.3 -13.9 2.1 -9.1 1.2 16.1 1.7 14.6 .4 -38.3 .8 34.7 .9 -34.3 2.9 2.8 .8 20.4 .4 10.9 .5 -27.1 3.7 16.3 .4 -24.7 1.3 14.2 .4 13.3 2.1 9.6 1.2 -34.3 .5 9.5 1.2 17.8 1.7 4.7 1.2 -25.8 1.3 15.6 .8 -15.7 1.7 -.9 .8 19.4 1.7 -12.8 .4 11.7 2.9 -.9 .4 -14.8 .9 11.6 .4 -23 2.5 23.1 1.2 -19.7 1.3 20.1 1.2 -27.9 2.1 14.5 .9 17.2 .8 -17.4 1.7 25.6 .4 -7.5 1.7 -21.8 2.5 16.4 .4 -15.2 .4 -4 1.2 25 1.3 -19.6 .4 12.5 2.1 -22 .4 42.6 3.4 -17.3 .8 -14.1 .4 -2.3 1.7 25.2 .8 -6.9 1.7 -10.1 .8 11.7 .8 -16.7 2.5 -17.7 1.3 35.6 1.7 -25.6 .8 27.8 .4 -28.2 2.1 25 .8 -17.9 .9 21.9 2.1 -7.7 .4 -16.2 1.2 35.6 .9 -26.1 2 10.1 .9 -22.7 1.6 31.1 .5 -21.5 1.6 -15.8 1.7 22.7 2.1 -10.4 .8 17.6 .4 -37.2 1.3 37.8 1.2 -27.3 1.3 32.3 2.1 9.2 .8 -41.2 .8 36.6 1.7 -28.9 2.5 19.6 .4 -17.8 .5 -4.3 1.2 22.2 1.7 -19.5 1.2 23 1.7 -17.9 .8 -17.9 2.5 9 .5 14.9 1.6 1.1 .4 -13.4 2.1 .2 .4 31.3 .9 -41.2 1.6 24.4 1.7 -21 1.3 32.8 .8 -33.6 1.7 30.6 .4 -19.3 2.1 12.2 .4 10.4 .4 -36.2 2.1 24.2 .4 -12.5 2.9 -7.6 1.3 28.7 1.6 -11 .9 -19.5 .8 2.8 .8 34.9 1.7 -5.3 .4 -19 2.5 -7 .9 11.3 1.2 -15.6 .9 24.5 2 -7.8 1.3 -20.3 .4 27.1 1.7 -21.5 1.2 22.1 1.3 -17" fill="none" stroke="#FF0000" stroke-width="4.0" stroke-linejoin="round"/>
<path clip-path="url(#c2)" d="M348.9 1233.6l1.3 41.5 2.1 -42.2 .8 23.6 .4 11.8 .8 -32.4 2.5 17 .5 -33.3 1.2 25.6 2.1 -50 .4 17.7 .8 -62.9 2.1 -1.5 1.3 57.6 1.2 -18.6 1.7 68.9 1.7 -10 .4 37.8 .8 -17.9 1.7 -28 .8 26.7 2.1 -30.2 .4 -14.2 2.1 42.5 2.1 -12.4 .4 11.1 1.7 -11.2 .8 20.5 .4 -9.3 2.1 -30.6 1.7 0 .8 33.5 1.3 -2.5 1.2 -32.4 .9 3.7 .4 31.1 2.1 -31 1.6 50 2.1 -30.2 .4 -18.1 .5 50 2 -47.2 .9 -.6 1.2 41.2 .9 -6.4 .4 -33.1 2.5 30.4 1.2 -23.1 .9 20.6 .4 -42 2.5 3.2 1.2 24.4 1.3 -1.2 .8 -16.2 1.3 -7.6 1.2 43.6 1.3 -31.6 .4 29.3 3.3 -45.8 .9 38.5 .8 7.6 .4 -43.9 3.4 13.9 .4 29.4 .4 3.2 1.7 -33 1.6 21.9 .9 -32.2 2.5 36.7 .4 -29.6 .4 -11.7 1.2 33.6 1.3 -39 2.1 41.1 1.7 19.7 .8 -39.3 .4 -2 1.3 20.2 1.6 -22.1 .9 42.6 2 -44.2 .5 46.6 2 -42.6 .9 17.8 .8 -37.9 .9 43.1 3.3 -19.5 .4 19.5 1.3 3.3 1.2 -35.6 1.3 5.4 1.2 26.1 .4 -29 1.3 34.3 2.5 -29.9 .4 16.6 1.3 4 .4 -18.8 3.3 23.9 .4 -29 .9 -1.4 .4 31.3 2.9 -31.9 .8 28.1 1.3 6.7 .8 -30.8 .8 18.4 1.3 -31.9 2.1 47.1 1.2 -35.2 .9 27.1 1.6 -40.2 1.3 1 .8 30.7 1.3 2 .4 -35.9 1.7 .1 .8 15.6 1.7 24.4 .4 -26.5 3.3 -21.8 .4 37.8 .9 -39 2.1 31.8 1.6 -29.2 .4 24.7 .9 -17.6 1.2 20 1.7 -8.9 .4 -19.3 3.3 -10.8 .5 40.7 1.6 17.1 .9 -41.9 1.6 3 .9 18.6 2.1 -5.3 .4 -44.9 .8 31.6 .4 -29.2 2.1 47.4 1.7 -60 .8 47 .8 -29.1 2.6 -7.4 .4 43.9 1.6 -16.5 .9 -48.9 1.6 31.4 1.3 -17.9 .4 17.8 .8 -28.3 2.1 24.4 1.7 -41.6 .4 27.4 1.7 -14.4 1.7 -24.2 .4 28.1 1.2 -4.2 1.7 -26.9 2.5 7.4 .4 -24.3 .8 37.6 .9 -52.4 2.9 50.5 .4 -41.9 1.7 16.7 .4 -40.2 .8 37 .5 -42.1 2.9 42 .8 -36.2 1.7 6.6 .4 28 1.2 -44.4 .9 52.6 2.5 -1.8 .4 -24.4 1.2 -6.2 1.7 44.7 .9 -42.8 1.6 55.2 .9 -39.7 2 30.6 1.7 -22.6 .8 31.5 2.1 -14.6 .4 34.8 .5 4.8 .8 -44.9 1.7 44.9 1.2 -21.9 1.3 -2.7 2.1 39.2 1.2 -20.6 .8 15.6 2.1 6.6 .4 -23.2 1.7 47 .8 -30.5 1.7 -2.8 .8 33 1.7 -21.3 1.3 33.9 1.2 -24.6 .4 23.9 1.3 -28.3 2.1 41 1.2 -41.2 1.3 30.1 .4 -43.3 2.1 64.9 .4 -43.9 .8 18.9 2.1 -2.5 .4 19.5 2.5 11.1 .5 -42.3 1.2 1.5 .8 48 2.1 -5.7 1.3 -34.4 .8 27.5 2.1 -13.3 1.2 -5.9 .9 28.2 1.6 -38.2 .9 34.6 .8 -4.2 .9 -16.7 2 23.9 .5 -34.2 2.5 45.6 .4 -42.5 1.6 7.1 1.7 43.9 .4 -41 2.1 32 1.3 -28.9 .4 30 1.2 -6.6 2.1 -30.6 1.3 29.1 1.2 -21.7 1.7 32.7 .4 -26.3 1.3 -20.6 1.6 42.2 .9 -36.9 1.6 46.8 1.3 -16.4 .8 -16.3 1.3 30 .8 -40.1 1.7 25.2 .8 -16.5 2.1 1.3 1.2 23.5 1.7 -.1 .8 -19.9 .9 -1.9 1.6 18.5 .5 -21.7 .4 37.6 2.1 -2.3 1.2 -49.7 1.7 8.4 1.7 39.2 1.6 -33.2 .9 28.8 .8 -3.7 .8 -34 1.7 22.9 1.7 -16.7 .8 28 .4 -27.1 2.9 25.5 .5 -21.7 .8 16.9 .4 -31.9 2.1 38.2 2.1 -29.5 1.2 26 1.3 -16 1.2 18.2 1.3 -21.2 1.2 24.1 .9 -25.3 1.2 5.9 .4 15.2 1.7 -17 .4 19.5 2.9 -20.7 1.3 19 .4 15.7 1.3 -31.8 1.6 -13.8 .4 40.7 3 -3.7 .4 -29.8 1.7 33 .4 -35.4 1.2 9.6 1.7 31.4 .8 -32.8 2.1 28.5 .8 -18.5 1.7 -3.7 1.3 -11 .8 21.3 .8 8.8 .4 -26.1 2.1 18.1 .9 -10.2 1.6 7.8 1.7 9 .8 -40.1 .5 27.3 2 -10 1.3 22.6 2.9 -25.1 .4 21.4 1.3 14 1.2 -38.2 1.3 27.7 .8 -25.9 1.7 -12.8 .8 35.3 1.7 -1.4 1.2 -23.3 .5 9.1 1.2 20.9 2.5 -27.3 .4 32.8 2.1 -28.5 .4 13.8 1.7 -16.8 .8 25.8 .9 -21.3 .4 8.5 2.1 -10.3 1.2 26.8 2.1 -36.1 1.3 21 .4 -15.4 .4 25.7 2.1 -20.2 2.1 32.1 .4 -11.8 2.1 -32.2 .8 1.9 .8 21.8 2.1 -13 1.3 27.8 1.2 -43.2 1.3 33.7 .8 13 .4 -31.1 2.1 -12.2 1.3 31.9 2.1 -9.2 .4 -9.3 1.6 18.4 .9 -22.3 1.2 16.5 .9 -19.6 2 31.7 .9 -30.2 1.2 8.2 .4 15.8 1.7 -27.7 1.7 22 2.1 -12.8 .8 20.1 .8 3.2 .5 -31.9 2 10.3 .9 18.8 1.2 3.8 .9 -26 1.6 2.2 .4 27.7 2.5 -39.1 1.7 31.6 .9 -11.3 .4 -25.9 2.5 17.7 .8 22.1 .8 -9.2 2.1 -11.5 .9 -9.9 1.6 30.9 .4 .6 1.3 -22.8 2.9 30.5 .4 -41.7 .9 11.3 1.6 25.5 .9 -7.4 .8 -13 1.3 -11.8 1.2 16.2 2.9 7.2 .4 -26.5 .9 38.4 .8 -38.1 2.9 32.1 .5 -26.2 .4 22.5 1.2 -20.9 1.3 -4.7 .8 22.8 1.7 -17.9 2.1 21.1 .4 -5.2 .8 -22 2.9 42.6 .4 -34.2 1.7 .7 .4 17.1 1.7 -22.4 .4 21.9 2.9 -26.9 .9 28.4 .4 -23.9 .4 25.4 2.5 -4.9 .8 -14.2 2.5 19.3 .5 -22.6 .8 13.2 .4 -19 2.5 .5 1.7 36.4 1.2 -11 .5 -22.7 2 -.8 .5 27.1 1.2 -24.4 1.7 25.8 1.6 -29.7 1.3 27.6 1.3 -7.7 .4 -18 2.1 28 .4 -34.4 2.5 27 .4 -11.7 1.7 13.7 1.2 -31.6 1.7 8.8 .8 24.5 .4 11.7 1.3 -25.6 1.6 12.5 .9 -32.5 2.1 29.3 .8 -25.6 2.1 38.9 .8 -32.1 .4 7.3 2.1 21.7 .4 -37 .9 39.9 2.5 -30.3 .8 32.8 1.7 -21.6 .8 -18.4 2.1 -3.4 .4 37.6 2.1 -16.1 .4 -23.7 .9 38.4 1.2 -34.4 1.7 27.5 .8 -21.4 1.7 13.6 1.2 -16.3 1.3 -10.5 1.2 45.5 .9 -28.9 2.1 -35.8 1.2 18 .8 -31.8 1.3 -12.2 1.2 -59.1 .9 15.2 2.1 -67.9 .4 -3.6 2.1 75.6 .8 -10.2 1.7 73.2 .4 -12.6 2.1 27.5 .8 -5.3 .4 42 2.5 -21.8 1.3 26.9 .4 -39 2.1 33.2 2.1 -.8 .4 -17.6 1.7 18.1 .8 -16.9 1.7 4.5 .4 31.7 .8 -32.6 1.7 18.1 2.5 -13.5 .4 27.8 .8 -33.3 .4 24 1.7 -27.9 2.1 25.6 1.3 -23.3 .8 27.5 .8 14.3 .9 -31.4 2.9 19.9 .4 -14.7 2.1 -23.8 .8 28.4 .4 -10.4 .4 14.8 2.1 -23.6 1.3 26.8 2.1 -21.8 .4 24.2 2.9 -24.5 .4 33.8 2.1 -36.5 .4 29.4 .4 -33.4 1.3 19.9 2.1 7.4 .4 -26.3 2.1 -.2 .8 18.7 1.3 8.1 1.2 -22.1 2.1 -10.2 .8 30.6 .9 -22 .4 25.3 1.7 -17.5 1.2 11.9 2.9 .6 .4 -20.3 .9 15.9 .8 -16.5 1.7 17.3 1.2 6.8 .9 2.4 .8 -19.2 2.9 30.7 .9 -27.3 1.6 28.8 .4 -36.9 2.1 24.8 .9 -15.5 1.2 16.5 .8 -16.6 1.3 15.2 1.3 -23.7 1.2 2.1 1.3 20.9 2 8.1 .5 -28 .8 -.1 1.2 24.9 1.7 -16.5 .8 12.7 2.1 -4.7 .9 -18.9 .8 22.3 1.3 -22.3 2.5 24.8 .8 -19.4 .4 3.2 1.7 17.7 .8 -21 1.3 13.9 1.6 -16.5 1.3 13.2 2.1 -25.2 .4 32.7 2.1 -24.6 .8 20.1 1.3 13.1 .4 -36.5 1.6 4.5 .9 19.8 2.9 -16.2 .4 17 1.3 -9.7 .8 10.6 .8 -6.3 .4 -20.8 3 26.6 .4 -34 1.2 34.1 2.1 -22 .9 22.7 .4 -14.1 1.6 15.1 2.1 -19.2 .9 7.7 1.6 15.8 1.7 -6.9 .8 -21.9 .4 6.9 1.7 28.5 .9 -40.3 2 24.2 .5 3 1.2 -20.1 1.3 14.3 .8 -17.4 2.1 4.2 .8 17.8 1.3 -12.9 .8 22.1 3.3 -5.5 .5 -15.4 .8 -5.3 1.7 19.4 2 -.6 .5 -19.8 1.2 21.4 1.3 -24.2 .8 -6.2 .8 25.4 2.1 -4.7 1.3 18.8 .8 -7.7 1.3 -20.7 1.2 -2.3 .8 30.5 2.1 -10 .4 -18.5 2.1 28.6 1.3 -25.3 .8 14.3 1.7 -24.9 1.6 1.3 .9 30.8 2.1 -6.4 .4 -26.7 .4 2.3 .8 31.3 2.1 -13.6 1.3 -14.3 2.1 10.5 .8 8.4 1.7 -21.7 .8 18.8 1.7 -9.1 .4 22.4 1.2 -6 .9 -19.6 2.9 -11 .4 35.7 .8 -10.5 1.7 -14.4 1.3 -1.5 .8 29.7 1.2 -11.2 .5 -13.6 2.9 21 .4 -32.5 1.7 28.3 .4 -16.8 1.7 -8.2 1.6 23.2 .9 -31.3 .8 36.9 1.2 -26.9 1.3 19.8 1.7 -12.3 1.6 18.7 1.3 -24.8 .8 18.7 2.1 -14.3 .4 11.3 .9 -24.7 .4 28.9 2.5 -17.5 1.2 9.3 1.7 -7.8 .8 17 1.7 -25.4 1.2 31.3 .5 -23 1.6 13.1 1.7 -19.6 .8 20.5 1.3 4.2 1.2 -26.2 .9 .5 1.6 37.4 1.7 -36.2 .4 33.5 1.7 -7.9 1.7 -21.6 .8 32.8 .4 -27.7 1.7 11.2 1.7 -20.2 1.2 12.9 1.7 -12.6 .4 .5 .4 9.6 3.3 8.6 .9 -17.4 .4 27.3 .4 -25.1 2.9 18 .4 -27 1.7 0 .4 30.7 3 -31.4 .8 29.5 2.1 -10.9 .4 -14.9 .4 5.3 .4 16 3.8 -21.5 .4 39.1 2.1 -17.8 .4 -14.8 1.7 26.1 .8 -34.7 1.3 22.9 .8 -19.3 1.2 6.9 .9 24.2 2.1 -43.6 .8 29.3 1.2 -22.9 1.7 31.6 .4 -26.1 2.1 20.4 .9 .4 .4 -17.6 2.1 19.1 1.2 -12.9 1.3 -7.3 1.6 14.7 1.3 7.8 .8 -31.6 2.1 22.5 .8 -13.3 .4 -5.3 1.7 25 1.7 -32.4 .4 24.8 1.7 -13.4 .8 25.9 1.7 -26.9 1.2 29.7 2.1 -39.2 .8 28.1 .9 -15 .8 25.7 2.1 -1.8 .4 -26.2 1.3 20 2.1 -19.6 .4 -12.6 1.6 34.7 .9 -1.3 1.6 -31.6 .9 14 1.6 21.4 1.3 -29.1 1.7 18.6 .4 11.2 1.2 -25.3 2.1 -1.2 .4 35.2 1.7 -15.2 1.3 -24.2 1.2 36.4 1.3 -21.2 1.2 -5.9 1.7 15.1 .8 -16.9 .8 21.2 1.3 -28.7 1.7 37.2 1.2 -12.1 .9 -16.8 1.2 15.5 2.1 -19.6 .4 29.6 2.1 -38 .4 13.6 .8 20.2 2.1 -23.6 .4 33.1 1.7 -15.2 1.3 -19.6 1.2 24.4 2.1 -16.2 .8 4 .5 10.4 1.6 -17.2 .9 14.6 1.6 -21.1 .9 19.4 3.3 8.8 .4 -17.8 .4 -9.6 1.3 22.8 2.1 5.6 .8 -22.7 1.7 -7.3 1.2 26 1.3 -6.4 .4 -18.3 1.7 22.1 .8 -17.8 1.7 -.1 1.6 11.8 .9 9 .8 -16.7 2.9 19.3 .4 -39.6 .5 3.8 2 28.7 1.7 -16.2 .8 29.3 1.3 -35.3 .8 34 2.5 -4.5 .4 -25.8 1.3 12.9 .4 -20.9 1.7 7.7 .8 25.9 1.7 -18.7 .8 27.4 1.3 -13.1 1.2 -22.6 1.3 -11 1.2 32.1 1.3 16.4 1.6 -30.8 .9 22.6 1.7 -21.2 .8 10.5 1.7 -31.3 .8 31.8 2.1 -22 .4 22.6 1.7 -15 1.2 20 .4 -20.1 2.1 .2 1.7 9.3 .8 -.2 1.7 -18 .4 5.6 1.7 19.8 .8 8.4 .4 -29.2 2.1 -2.9 1.7 28.8 1.6 -4 .9 -30.4 2.1 23.3 .4 -17 1.6 14.4 1.3 -11.7 .4 26.3 1.3 -29.1 2.1 22.8 .8 -16.7 .8 19.7 2.1 -20.7 .4 -1.9 .9 34.5 2.9 -31.6 .8 28.1 1.7 -31.9 .8 18.7 .9 -23 1.2 28.1 2.1 -35.2 .4 39.7 1.3 -27.2 .8 19.1 2.5 -17 .4 19 1.3 -2.1 .4 -33.4 2.9 37.5 .8 -24.5 .9 -6.5 .8 32.2 2.1 -25.4 1.2 22.3 .5 4 1.6 -29 .9 28.1 .8 -18.7 2.1 -4.5 .8 22.8 1.3 1.9 1.2 -38.1 1.7 29.5 1.2 -21.5 1.7 23.1 .4 -20 2.5 23.7 .9 -28.7 .4 24 .8 -26.2 1.7 31.4 1.2 -27 2.1 29.8 .9 -26.9 1.6 -12 1.3 35.1 .4 -7.2 2.1 -29.3 .8 14.8 .4 15.6 1.7 9.1 .4 -29.7 2.9 26.4 .9 -19.4 .8 6.4 .8 -12.4 3 19.3 .4 -13.2 2.1 4.1 .8 13.9 2.1 8.5 .4 -40.7 .8 34.3 1.3 -18.6 2.1 -10.4 .8 25.4 1.2 -16.6 1.3 23.4 1.7 4.8 .8 -21.4 1.7 -12.7 .4 21.2 .8 18.2 .9 -33.6 1.6 -6.9 2.1 29 1.7 -23.4 .8 19.9 .4 -14.8 1.3 6.3 1.7 -21.1 .8 43.2 1.7 -38 .4 17.5 1.6 -7.9 1.3 23 1.2 -23.8 1.7 27 .8 -34.9 2.1 26 1.3 -19.2 1.2 21 1.3 -30 .8 40.6 .9 -26.3 1.6 11.4 .9 -7 .8 -19.8 2.9 3.5 .4 27.4 1.3 -37.2 .4 36.8 2.9 -32.6 .4 28.4 2.5 -.4 .5 -29.3 1.2 31.6 .4 -19.2 2.9 25.5 .5 -19.7 1.2 15 1.3 -23.5 .8 1 1.7 12.5 1.6 11.9 .5 -27.1 2.5 3.8 .4 15.9 .4 5.3 1.7 -22.7 2 5.5 .9 19.6 .4 -9.7 2.1 -16 1.6 19 .5 -16.3 1.2 20.3 .4 -23.8 1.7 2.8 .4 13.5 3.8 10.2 .4 -28.3 .4 26 2.1 -17 1.2 -18 1.3 33.9 1.2 -20.8 .5 16.7 1.6 -14.5 1.7 18.6 .8 -11.1 .5 -21.8 2.5 34.6 1.2 -28 .4 5.7 .9 27.8 2 -9.8 1.3 -18.1 1.7 4.4 .8 11.6 1.7 -18.6 .8 36.3 1.3 -21.5 .4 -9.6 2.1 -3.1 .4 30.2 2.9 -12 .4 -24.1 .8 2.8 1.7 12.9 1.7 -6.6 1.2 12.1 .9 -14.7 .8 18.9 2.1 6.6 1.2 -38.4 1.3 28.8 .8 -18.3 .9 -1 2 16.9 .5 -24.3 .8 31.5 2.1 -5.3 1.6 -19.8 .9 -.4 .8 24.5 1.3 -1.3 1.2 -35.1 1.7 34.2 .4 -16.2 2.5 27.1 1.3 -32 .8 2.6 .4 19.4 2.5 -19 1.3 23.8 1.2 -28.4 .9 28 .8 -24.9 1.2 18.1 2.1 16.4 .9 -40.8 1.2 4.6 .8 31.7 1.3 -11.7 1.7 -21.5 1.2 1.5 1.3 17.7 1.2 -14.6 1.7 19.5 .4 -1.5 1.7 -25.7 .8 -2.4 1.3 20.9 2 -19.3 1.3 35.1 .4 7.7 2.1 -30.5 .4 12.2 1.3 -28 2.9 6.5 .4 20 .8 4 .5 -15.7 1.6 20.9 1.3 -16.7 1.2 .3 .9 -22.5 2.5 15.9 .8 11.6 1.2 6.1 1.7 -26 .4 -3.1 2.1 25.8 1.7 1.6 .4 -17.1 2.1 -1.7 .4 9.5 2.1 12.8 .4 -28.4 2.1 19.3 .8 -12.5 1.7 21.8 .8 -20.5 1.3 -6.1 1.2 16.7 .5 -3.9 2 13.1 .5 -25.8 1.2 28.4 1.3 4.8 1.2 -38.7 2.5 3.6 .8 30 1.3 -28.4 .4 16.1 1.7 -18.2 .8 21.5 2.1 10.6 .4 -36.1 2.1 14.2 1.3 22.5 2 -30.4 .5 25.5 1.6 -5.2 .9 -8.7 1.2 -7.5 .8 15 1.7 15.6 1.3 -31.7 1.2 25.9 .9 -18.4 2 10.7 .9 -18 1.6 1.3 .9 25.5 .8 -40.2 1.7 24.7 .4 7.4 1.2 -17.9 1.3 27.3 1.7 -31.2 1.6 5.5 1.3 27.5 1.2 -34.9 .5 25.9 2 -16.8 .9 24.2 1.2 3.1 .4 -33.2 2.1 26.9 1.7 -28.3 1.7 -.9 .8 35.9 .4 -.8 .9 -38.8 2 10 .9 17 1.2 -27 1.3 35.9 1.2 -23.2 1.7 11.1 2.5 2.8 .4 -30.7 1.3 38.1 1.2 -21.6 1.7 -3 .4 25.8 2.5 -7.7 .4 -12.6 .4 18.7 .9 -34.8 2.5 14.5 .8 25.7 1.7 -3.6 .8 -39.1 .8 42.3 .5 -22.6 2.9 22.6 .8 -25 1.3 -9.9 1.6 28.9 .9 -28 .4 24.6 3.3 -25.9 .4 28.4 .9 -16.1 .4 15.3 1.7 -5.4 .4 -18.5 2.5 7.3 .4 12.9 2.1 -8.1 1.7 15.2 .4 -21 2.1 17.3 .4 -.6 1.2 -19.4 1.7 -8.4 .8 39 1.7 -12.1 1.3 -21.5 1.6 19.4 1.3 -23.3 .8 22.4 .4 -24.9 1.7 12.2 2.1 13.4 .8 5.6 .4 -30.1 1.7 33.6 1.2 -21.9 1.7 -11.1 .4 29.2 2.5 -37.9 1.3 34.8 .8 -25.4 1.3 37.6 1.2 -5.8 .9 -27.6 1.6 -12.6 1.3 31.1 1.6 -10.1 1.3 -11.6 1.7 13.2 .8 -11.8 .8 -2.5 1.3 21 1.7 16.1 .4 -30.4 1.2 14.2 .4 -22.3 2.1 7.5 1.3 24.4 1.2 6.1 1.7 -29.7 .8 -3.4 1.7 24.1 2.1 -20.7 .8 14.9 .9 13.2 .8 -31.6 1.2 22 2.1 -21.7 .4 20.2 .5 -23.4 3.3 14.7 .8 -14 1.7 2.1 .4 19 .9 3.5 2 -20 .5 26.4 .4 -37.3 3.3 14.4 .8 13.4 .5 3.8 .4 -24.8 2.1 30.1 .8 -27 2.9 -.8 .4 24.7 .9 2.9 .4 -36.6 2.9 -2 .8 28.3 2.1 -18 .4 20.4 1.7 -16.9 1.3 25.2 .4 4.4 2.1 -37.5 .4 6.8 .4 24.4 2.5 -35.3 .4 43.6 2.5 -30.6 1.3 19 .4 -21.6 2.1 21.8 .8 -17.1 1.7 25.6 1.2 -18.9 1.3 -12.2 .8 2.4 1.7 19.3 1.7 -20.4 .8 27.6 1.7 -6.8 .8 -17.6 1.2 15 .9 -28 .8 31.6 .4 -22.1 2.1 10.3 1.7 -7.5 .8 13.4 .4 -23.1 2.5 32.9 .9 -25.8 2.5 27.4 .8 -21.9 1.3 .5 1.2 22.1 .8 -14.4 1.7 -14.8 1.3 17.3 .8 -26.4 2.1 34.4 .4 -22.2 1.3 10.5 1.2 -20.8 1.7 7.2 .8 29.9 1.3 -42.1 1.2 18.5 1.7 15.1 1.2 -31.2 .9 16.2 1.6 23.2 .5 -30.7 .8 18 2.9 4.5 .4 -22.2 .9 .9 .8 34.8 2.5 -32.6 .8 28.9 1.7 -8.7 .4 -28 2.5 28.6 .4 -23.7 1.7 19 .4 -26.6 1.3 10.2 1.2 27.7 1.7 -23.3 1.2 21.4 1.7 -13.2 1.3 -21.3 1.6 12.5 .9 12 .4 9.1 .8 -26.8 2.1 29.2 .4 -33.7 2.1 20.4 .4 -21.6 1.7 22 .8 -22 2.1 8.5 .4 19.8 2.1 -36.5 1.7 31.8 .4 -15.5 1.2 25 1.3 -1.4 1.3 -19.4 2.5 -14.4 .4 33.2 1.6 2.8 .9 -16.7 1.6 -3.7 .5 3.9 2 14.5 1.3 -20.3 .8 14.2 1.3 -23.1" fill="none" stroke="#00B050" stroke-width="4.0" stroke-linejoin="round"/>
<path clip-path="url(#c3)" d="M348.5 1749.3l.8 -19.9 2.5 29.3 1.3 -36.2 1.7 -28.6 .4 45.3 1.2 -3.8 1.7 -85.7 2.1 32.2 .4 -38.6 .8 8.6 1.3 67.2 .8 -8.4 1.7 36.6 1.2 5.8 .9 -35.4 1.2 15.8 2.1 28 1.3 -28.9 .4 37.9 2.5 -39.6 .8 22.3 1.3 11.1 .8 -25.8 .8 -11 1.7 20 2.5 -18.6 .4 26.5 1.3 -9.8 .4 -14.7 1.6 2.6 .9 18 1.2 -18.8 .9 17.5 3.3 6.5 .4 -26 2.1 35.1 .4 -23.8 .9 -19.7 .8 26.4 2.5 6.3 .4 -23.5 1.7 -10.8 1.2 36.5 .4 -4.3 1.7 -27.2 .8 4 2.1 24.4 .4 10 .9 -25.9 1.7 20.9 .4 -24.4 3.3 28.3 .8 -48 .5 40.3 1.6 -31.7 .9 45 1.6 -42.4 1.3 10.1 .8 26.4 2.1 -35.4 1.2 20.1 1.7 9.2 .8 -38.7 .5 -5.6 2.1 43.9 .8 -1.1 .8 -42.2 1.3 18.2 1.6 27.4 1.3 11.2 1.7 -46.5 1.6 31.4 .9 -35.8 .4 58 1.6 -48.7 1.3 -6.8 .8 22.5 1.3 -27.2 .8 47.6 2.9 -36.6 .9 26.2 .4 -30.1 2.1 39.6 .4 -36.8 2.1 31.7 .8 -48.7 1.3 40.5 2 10.8 .5 -35.7 .8 -.6 .4 29.7 2.5 -36.3 1.3 46.8 1.6 -9.8 1.3 -17.9 1.6 -10.4 .9 19.6 1.2 3.6 1.3 -40.9 .4 16.6 1.3 23.6 2.5 -35.1 .8 40.6 .4 -30.8 .8 21.4 2.5 1.1 .5 -19.9 1.2 37.2 .4 -34.8 2.1 19.1 .4 -25.2 2.1 -2.7 2.1 33.4 .8 6.2 1.3 -34.1 2.1 -13.9 .8 25.6 .4 1.2 .9 -26.3 2 10.6 1.7 35.6 .8 -16 1.7 -38.5 1.3 5.7 .8 28 2.1 -38 .4 23.9 2.1 15 .4 -40.9 1.3 36.5 1.6 -58.9 1.7 19.3 .4 -38.5 .8 15.5 1.7 -26.7 1.3 35.5 1.2 -38.8 1.7 44.6 .8 -70.3 1.3 35.6 1.2 -39.8 .8 8.3 2.1 -30.8 1.7 37.5 .4 -57.5 .9 56.2 1.2 -37.7 1.3 24.6 .8 -33.4 2.5 12.5 1.2 21 .9 4.9 .4 -34.4 2.9 46.2 .4 -45.1 .9 5.8 1.6 21.4 .9 6.9 2 -36.8 1.3 -12.9 1.2 38 .5 -13.7 1.2 -52.3 1.3 52.8 2.1 -50.8 2 44.1 .5 -45.4 .8 10 1.7 39.3 .8 -37.2 1.7 24.2 .4 -28.2 1.2 41.1 1.3 25.6 2.1 -64.8 .4 29 1.6 46.7 1.3 -3.6 1.3 -26.6 .8 0 .4 35.4 2.9 -19.3 .9 31 .8 -6.3 .4 31.6 2.1 -54.4 1.7 60.7 1.6 -36.5 .9 48.8 1.2 23.2 .8 -74.1 1.3 60.6 .4 -37.8 2.1 56.2 .4 -36 2.1 -5.9 .8 40.3 1.7 -24.2 2.1 38.5 1.7 -6.7 .4 -26.5 .8 31.7 .8 -23 1.7 -11.7 1.3 62.2 1.2 -20.7 .4 -26.5 2.1 -21.9 1.3 60.6 2.1 -41.9 .4 59 2.1 -25.5 .4 -34 1.2 18.5 2.1 29.6 .4 -19.8 1.3 31.5 1.6 -11.6 .9 -51.8 1.2 61.2 2.1 -49 .4 36.7 .9 -32.3 2 39.2 .9 -37.4 1.2 -3.5 1.7 53.1 1.7 -43.6 .4 31.3 1.7 -.3 1.2 -39.1 .8 41.7 2.1 -33.8 1.3 18.4 .8 13.8 .8 16.2 2.1 -43.5 1.7 23.6 .8 -19.4 1.3 3.8 .8 11.6 2.5 -.7 .4 -31.9 1.7 21 .4 33.9 1.3 -19.2 .8 -23.9 1.3 46.4 1.2 -50.5 1.7 38.9 1.6 -32.7 .9 -9.9 1.6 50.7 .5 -35.2 2 30.4 2.1 -7.4 .4 -28.1 .5 33 1.2 -28.1 1.7 35.4 .4 -47.5 1.7 34.7 .8 -19.5 2.5 -14.3 .8 25.7 1.7 -25.2 .4 54.2 2.5 -6.3 .9 -38.3 .8 33.5 1.2 -38.5 .9 -2.4 1.6 41.3 1.3 -2.2 .8 -39 1.3 2.8 .4 16.1 2.9 -13.4 .4 27.8 1.3 -49.2 2.1 54 .4 9 .8 -30.2 2.5 -22.2 .4 33.3 1.7 -27.5 1.7 18 1.2 -27.7 1.3 43 .8 -1.3 1.7 -29.7 2.1 4.3 .4 33.2 .4 -30.8 .8 38.6 2.5 -31.9 .9 36.6 1.2 -24.9 .9 -34.1 1.6 38 1.3 -18.9 1.6 20.3 .9 -33.4 1.6 3.5 .9 19.4 2.1 -8.1 .4 19.6 .8 6.9 1.7 -43.6 2.5 12.1 .4 37 .8 -44.6 1.3 32.3 1.2 18.7 1.3 -56 1.7 46.3 1.2 -47.3 1.7 57 .4 -50.8 1.7 2.4 .4 27.3 1.6 -35.7 .5 32.4 1.6 4.4 1.7 -47.2 .8 13.2 .9 24.3 1.6 -15.1 1.3 37.2 1.2 -44.2 2.1 26.7 .9 -17.8 .8 19.6 1.2 -24.8 2.1 35.7 .9 -35.2 1.2 27.4 1.3 -30.2 1.2 33.9 .9 -31.4 .4 31.1 2.5 -16.9 .8 15.3 2.9 -.9 .4 -32.7 .9 4.8 1.6 27.8 .5 -28.5 1.2 33.2 1.7 .1 .4 -41.2 2.1 28.8 .4 -22.5 1.7 11.2 .8 24.4 2.9 -6 .9 -19.5 .8 -15.9 1.7 41.6 .4 -6.3 1.2 -35.5 2.1 8.2 .4 36.3 1.7 12.5 1.2 -46.5 2.5 39.8 .5 -48.3 1.2 19.1 .4 25.4 1.7 -38.2 .4 44.4 2.1 -37.7 .8 30.2 1.7 -9.6 1.7 -22.1 .4 25.7 .4 -19 2.1 -9.8 1.7 23.6 1.2 -26.2 .4 27.5 2.5 5.5 1.3 -31.9 .4 43.1 1.7 -54.5 1.2 -1.3 .8 52.7 1.7 -41.8 .4 27.1 2.1 7.6 1.7 -43.7 .4 48.9 1.3 -28.6 2 2.2 .5 25.8 1.6 -14.9 .4 -13.2 1.7 -.1 1.3 22.2 1.2 -7.8 .8 -23.2 2.5 37.1 .9 -30.1 1.7 -16 1.2 34.6 .8 -3.9 1.3 -17 2.5 -37.1 .4 34.6 1.3 -3.9 .4 -46.2 1.2 51.6 .9 -30.5 2.9 15.2 .8 28.3 .4 14.2 .4 -49.9 2.5 63.7 .9 -48.2 2.1 9.8 .4 22.1 1.2 -18.9 .5 14.3 3.7 -27.8 .4 45.8 .9 -4.9 .8 -19.8 2.1 -5.9 .8 18.6 1.3 -2.7 .4 -11.8 1.6 17.4 2.1 -36.9 1.3 35.5 1.2 -24.8 .4 20.7 .9 -31.4 2.1 -6 .4 37.4 3.3 3.2 .4 -20.6 .9 -15.3 .4 31.2 3.3 -37.5 .4 46.1 1.3 -38 .4 -12.7 1.7 8.7 .8 -18.2 2.5 19.8 .8 -34.5 .9 22.4 1.7 -30.4 .4 12.9 .8 -34.6 2.5 -16.8 1.3 46.2 1.6 -40.6 .9 48.4 .4 -31.5 .4 33.9 2.1 29.7 .4 -49.2 2.5 20.2 1.2 23.9 .9 -12.5 2.1 40.9 .8 -4.4 .4 -19.4 2.1 23.9 1.7 -29.7 .4 38.8 .8 -33 2.1 41.8 .8 -40.7 2.1 11.6 .4 13.2 1.7 22.8 .4 -39.7 1.7 24.9 1.2 -21.5 1.3 23 .8 -16 2.5 28.5 1.3 -42.7 1.7 23.6 .8 -21 2.1 -1 .4 30.9 .8 -13.1 .4 8.9 2.1 -11.7 1.3 3.3 2.1 7.4 .4 -25.5 .8 8.2 .4 16 2.9 -13.8 .9 25.8 1.2 -25.3 1.3 19.8 2.5 -21.2 .4 39.3 2.1 -20.3 .4 -16 .8 27.6 .5 -25.4 3.3 3.1 .4 20.3 .4 -33.6 2.1 26.8 .4 7.8 .4 -38.6 3 13.3 .4 17.7 1.6 3.2 .9 -29.6 1.7 2.6 1.2 35.8 2.5 -28.2 .4 18.6 .4 -18.6 .9 24.3 2.1 4.5 .4 -42.4 2.9 -3.1 .4 36.5 .8 -23.2 .9 19.9 2.9 -7.8 .8 -11.7 .4 28.8 1.7 -30.7 2.1 22 .8 -29 .5 9.8 1.2 -22 1.3 28.4 2 -30.7 1.3 15 1.2 -26.7 .5 14.9 1.6 50.3 1.3 -11.5 .8 -15.8 1.3 -4.9 1.2 30.7 1.7 -8.6 1.6 -30 .5 -3 1.2 29.2 1.3 -34.3 1.2 55.4 1.7 -36.7 .4 18.3 2.1 -24.1 .4 22.5 1.7 -22.4 2.1 22.7 .8 4.9 1.7 -25.2 .4 27.5 1.6 -22.5 .9 -10.9 2.1 25.9 2.1 -10.4 .4 18 1.2 -24 .9 15.9 .8 -8.3 2.1 14.7 .8 5.6 .8 -26.3 1.3 16.1 .8 -35.4 1.7 41.7 2.1 -26.6 .4 26.8 2.1 -18.8 1.2 15.1 .9 -18.5 2.5 4 .4 12.2 1.7 -30.9 .8 45.2 .4 -34.4 2.1 22 .4 -1.4 .4 -37.7 2.9 37.3 .9 -25.4 .8 7.7 1.3 -27.8 1.6 39.9 .4 -30.7 1.7 27.7 .8 -26.1 1.7 43.3 1.7 -23.8 .8 -7.3 1.3 23.2 1.6 -2.7 1.7 -21.2 .8 17.6 1.3 -16.6 2.1 12.4 .4 11.7 .8 -31.7 1.3 31 2.5 -4.6 .8 -25.6 1.3 31.1 1.2 -24.8 .8 7.7 .9 18 1.2 -19.6 .9 25.4 1.6 -13.8 1.7 -13.3 1.3 -1.4 1.2 38.5 2.1 -17.1 .8 -14.4 .9 -2.6 .8 14.2 2.5 -2.1 .4 -26 1.7 42.3 .4 -36.1 2.5 22.6 .8 -16.7 .9 19.3 .4 -29 2.1 41.1 1.2 -31.9 1.3 21.8 1.2 -29.9 2.5 8.3 .4 16.5 .5 4.3 .4 -16.7 2.9 -.8 .8 30.4 1.3 -39.7 .8 27.7 2.5 -26.6 .4 27.4 1.3 -3.5 .8 -22.9 1.3 34.3 1.6 -27.5 1.3 20.7 .8 -25.6 1.7 -4.9 .4 22.8 2.5 12.5 1.3 -37.6 .4 18 1.2 -16.8 2.5 5.8 .9 21.4 2 -22 .5 23.4 .4 -16.1 2.1 26.9 .8 -10.6 1.3 -20.7 .8 27.9 1.7 -21 1.2 11.5 .4 -19.7 2.1 -4.1 1.3 21.4 1.2 -17.1 .4 19 2.5 -24.6 .4 34.4 2.5 -32.8 .9 21.8 .4 -21.7 .4 29.8 2.5 -11.1 .4 -24.7 2.1 9.2 1.7 20.6 .4 3.1 2.1 -22.5 1.7 16.8 .4 -22.6 .8 3.6 .4 21.1 2.1 -15.1 2.1 12.7 1.7 11.5 .4 -27.1 .8 -13.9 2.1 25.6 .4 12 2.1 -17.2 .4 21.2 .4 -34.7 2.5 17.5 .9 -10.4 1.2 22.8 1.7 -28.4 1.7 23.4 .8 -14.7 .8 28.4 2.1 -48.5 .4 40 2.1 -25.1 1.7 3.5 .8 22.7 .4 -23.3 .5 17.8 2.5 4.5 .8 -24.8 1.7 4.5 1.2 30.3 1.3 -43.7 1.2 20.4 1.3 10.3 1.2 -18.1 .8 27.8 1.3 -25.9 2.1 11.5 .8 -17.4 .8 6 1.7 14.7 .9 -14.9 .8 23.2 3.3 -31.6 .4 24.9 .9 7.5 1.6 -23.1 .5 2.9 .4 10 2.1 -20.8 .4 22 2.1 -28.7 .8 30.6 2.9 9.5 .4 -34.5 .9 22.4 1.2 -21.7 1.3 18.7 1.6 -15.1 .9 15.2 .8 -25.5 1.7 32.9 .8 -16.7 2.1 -10.8 .8 28 1.3 -30.5 1.2 26.2 1.7 -21.8 .4 12.8 2.5 -15.5 .4 30.2 1.3 -5.1 2.1 -24.9 2.1 6.4 .4 30.6 1.2 -35.8 1.3 18.1 .8 3.5 1.3 -29.9 .8 31.5 .4 -21.8 2.9 2.9 1.3 23.1 .8 -1.4 .4 -30.6 3.4 34.9 .4 -36.2 .8 38.5 1.3 -40.1 .8 40.4 .4 -30.5 2.1 34.8 .4 -37.4 3.8 13.1 .4 17.9 .4 -33.5 2.1 41.6 2.1 -19.1 .4 -27 .8 4.1 .9 34.4 1.2 8.7 .8 -48.5 1.7 24.6 2.1 -4.5 .8 19.2 1.7 -30.1 1.3 -4.8 .8 26.7 .8 -17 2.1 23.3 .8 6.3 .9 -29.8 2.1 -3.2 1.2 19.6 .8 -1.8 .5 -15.3 3.3 -13.2 .4 35.3 2.1 4.1 .4 -32.3 .9 -.7 .8 24.1 1.2 -8.5 1.3 22.1 2.1 -20.4 1.2 -22.1 1.7 33.4 .8 -24 .9 22.7 1.6 -20.2 .4 24.7 2.1 -25.1 .4 16.7 .9 -22.8 2.1 34.5 1.2 -20.8 1.7 -2.9 .4 9.9 1.3 -19.2 .4 31.6 2.5 -9.1 .4 -15.7 2.1 34.8 1.2 -48.1 1.3 35.4 1.6 -29.7 1.3 -4.3 .4 34.2 2.1 -23.8 1.2 13.1 .5 13.8 2.1 -37.2 1.6 31 .4 -26.8 1.3 29.8 .8 -21.4 2.1 10.1 .4 -17.4 1.7 .2 1.7 34.2 .8 -.1 1.2 -19.9 .9 15.4 1.2 -29.6 1.7 -9.3 .8 21.7 1.3 10.4 1.6 -24.4 1.3 9.7 .4 18.1 1.7 -3.3 .8 -12.7 2.9 23.5 .9 -21.3 .4 12.4 1.2 -23.3 1.7 23.5 .4 -16.3 2.5 -6.5 .4 15.1 1.3 -17.9 .4 18.7 2.1 -18 .4 27.3 3.4 1 .8 -18.7 .4 19.2 .4 -39.9 3.4 13.8 .8 30.9 .8 -36.4 .9 35.6 2 8.4 1.3 -25.9 .8 7.2 .9 -21.1 1.2 .3 1.3 28.1 1.2 -28.4 2.1 23.2 .4 -6.1 1.3 -23.6 2.5 25 .4 -19.3 1.2 4.8 .9 29.9 1.2 -35.7 2.1 32.2 .4 -34.2 1.7 33.6 1.7 -26.8 1.2 15.6 1.3 -19 .4 34.1 2.5 2.1 .8 -27.9 .4 30.6 .9 -36.8 1.6 18.9 1.3 -23.2 1.7 2.6 1.6 22.9 1.7 -23.5 .8 30.2 2.1 -25.8 .4 17 .9 7 .4 -24.7 1.6 -1.7 .5 16.2 2 -14.6 2.1 28.5 .4 -24 .5 17.1 2.1 -29.1 1.2 44.5 1.7 -20.7 1.2 -19.3 1.7 40 .8 -30.8 .9 30.8 1.2 -40.5 1.7 2.5 .4 22.2 2.1 -30.3 1.2 26.3 .9 -18.4 .8 21.2 3.3 -2.4 .5 -17.2 2 5.7 .5 27.7 1.6 -9.4 .4 -32.7 .9 28.9 .8 -17.4 2.5 18.3 .8 -37.3 1.3 48.5 .8 -24.2 1.7 -4.7 .8 20.2 1.7 -37.2 1.2 33.8 .9 0 2.1 -28.8 .8 9.8 .8 22.8 2.1 -32.8 1.3 26.6 1.2 -24.5 1.3 43.4 .8 -15.6 .4 -34.1 1.7 4.5 1.2 37.9 2.1 -.9 1.3 -23 .4 -10.2 1.7 34.6 2 -8.4 .9 -19.6 .8 -9.8 1.7 29.7 .4 14 2.1 -43.2 .4 18.2 2.1 -14.3 .4 34.3 1.3 -23.3 2.5 -5.7 .8 24.2 .4 -5.8 2.1 -23 1.2 6.2 .9 21.8 1.2 -1.5 1.3 -7.6 .8 4.1 1.7 -21.3 .8 16.6 .4 -21.5 2.5 9.6 1.3 19.3 .8 -1.9 .9 -17.3 3.3 2.5 .4 15.7 .4 2.2 .9 -40 2.5 39.6 .4 -19.4 2.9 27.7 .4 -35.9 .9 -4.9 1.2 20.9 1.7 -16.4 .8 19.6 2.1 11.9 .4 -19.5 .8 -4.1 1.3 23.1 2.5 -1.9 .8 -27.5 1.3 7.3 .4 20.2 1.2 -5.5 2.1 -23.8 .9 -4 1.2 25.9 1.7 -30.4 .4 49.6 1.7 -2.7 1.2 -30.6 1.7 -6.1 .4 19.7 1.3 -32.8 .4 52.8 2.1 -32.3 2 15 .5 -27.9 1.6 24.8 1.3 6.7 1.2 -17 1.7 -10.5 1.2 30 .5 -8.8 2.1 -19.9 1.2 30.4 1.3 -29.6 1.2 21.4 .4 -31.2 1.7 30.3 .8 -30.2 2.5 43.5 .4 -31.5 1.3 1.2 .4 20.7 2.1 6.4 .8 -31 2.5 2.6 .9 24.9 .4 .1 .8 -27 3.4 7.2 .4 18.9 1.2 -.3 .9 -27.2 2.5 23.4 .4 -12.6 .8 17.3 .4 -30.9 2.5 0 1.3 21.5 .8 13.2 .8 -42.3 2.1 38.6 .9 -37.3 1.6 28.2 .5 -6.9 1.6 20 1.7 -29.8 .8 -.7 1.7 19.9 .4 -18.2 2.1 17.6 1.2 -16 1.3 23.9 .4 -32.4 .8 19.6 2.1 10.2 1.7 -21.5 .8 -7.6 1.7 23.6 1.3 -17.8 .8 34.6 .8 -25.9 1.3 -11.9 2.1 17.2 1.2 -12.2 .8 13.8 1.7 -19.8 1.7 24.5 .8 -17.3 1.3 15 1.2 -32.4 .4 32.5 .9 -38.6 2.5 39.6 1.2 -36.8 1.3 42.5 .8 -55.3 1.3 14.5 1.2 19.7 2.1 -8.5 .4 -9.9 1.3 1.4 .8 27 2.9 -24.4 .4 31.2 2.1 2.5 .4 -37.6 .9 7.8 1.2 33.1 2.1 -4.8 .8 -19 .4 -3.7 .9 28.2 1.7 -5 .4 -18.3 2.9 -5.1 .8 27.1 .9 9 .4 -39 2.1 9.7 .4 29.9 3.3 -14.5 .4 -24 .9 23.4 1.2 -17 1.3 -.6 .4 24.6 3.3 -28.3 .9 21.8 .8 -15.8 .8 25.3 1.7 -10.7 .4 -25.2 1.7 1.4 .4 26.6 2.9 -6.5 .4 -16.9 1.3 6.5 1.6 18.1 2.1 -7.6 .4 -25.1 2.1 29.6 .4 -22.3 2.1 20.1 .9 -18.1 .8 23.5 1.7 -14.6 .4 -4.2 .4 28.6 2.1 -8.6 .4 -27.2 2.5 28.2 1.3 -27.4 .8 12.2 .8 -12.7 1.7 26.1 1.2 -33.7 2.1 15 1.3 14.5 1.2 1.2 1.3 -18.7 1.7 -2.2 .4 22.6 1.6 4.6 .5 -25 1.2 -11.5 2.1 33 .4 1.6 1.7 -32.9 2.5 8.3 .4 8.6 .8 18.5 .9 -17 1.6 -10.9 1.3 23.9 1.2 -26.9 .4 40.5 1.7 -38.2 .9 29.3 2.5 -5.3 .8 -19.2 .8 18.2 1.3 -13.1 2.1 -23 .8 31.7 1.7 -1.2 1.2 -18.5 .4 -.2 2.1 17.6 2.1 -7.6 .4 29.5 .8 -14.4 1.7 -27.8 .9 19.7 1.6 -21.2 .4 -1.4 2.1 20.9 1.7 -14 .8 28.1 .9 -5.6 1.2 -27.9 .8 29 .5 -28.7 2 5 .5 33.7 3.3 -33.8 .4 36 1.3 -38.3 .8 22.2 1.7 13.4 1.2 -21.8 1.3 -17.6 .8 18 1.7 5.9 .8 -19.9 2.9 20.3 .4 -16.3 .5 25.5 2 -22.8 1.3 12.9 .8 -15.9 1.3 .9 1.2 28.7 .9 -7.5 1.6 -22.4 1.3 3.7 .4 24.4 2.9 -14.5 .9 -15.1 .8 24.1 1.7 -26.3 .8 -2.7 .4 43.3 2.5 -38.3 1.3 36.6 1.6 -35 .4 17 .9 .7 1.6 -17.9 1.3 19.7 .4 -31.8 2.1 19.3 1.3 10.7 .8 -19.1 2.1 19.6 .4 -6.2 1.2 -8.8 3 15.4 .4 -24.1 .8 25.2 1.7 -27.1 1.2 37.3 .4 -33.1 2.5 18.8 .9 -22.3 .8 2.1 .8 35.9 1.7 -25.6 1.7 28.3 .8 -33.3 .9 23.5 1.6 -29.6 1.7 30.1 .4 -30.5 1.7 30.6 1.6 -5.9 .9 -22 1.6 25.9 1.3 -24.4 1.7 29.7 .4 -22 2.5 -15.6 .4 31.1 .4 -11.7 .9 17.3 1.6 2.1 .9 -26.9 1.6 31 1.7 -28.6 1.7 -10.3 .4 20.9 1.2 -16.9 .4 27.2 2.1 3.4 1.3 -25.4 1.6 -2.7 1.3 36.1 .8 -19 .4 -12.5 2.5 20.6 1.7 -23.8 .4 -2.9 1.7 20.3 1.7 -13.1 .4 16.1 2.5 -1.9 .8 -10.5 .4 -25.7 .5 43.3 2 -25.4 1.7 21.4 1.3 -12.3 .8 14.4 1.2 -2.5 1.3 -11.5 2.5 -15.5 .8 34 2.1 -13.2 .4 -20.7 1.7 12.2 .8 7.7 1.7 -16.5 .4 22.4 1.3 2.4 .8 -17 1.3 23.1 1.6 -36.3 .9 32.2 .4 -32.6 3.7 36.8 .4 -35.1 .9 29.9 1.7 -13.7 2 -22.6 .5 20.7 .4 -22.3 .8 39.2 2.5 -22.3 .8 18.4 2.1 -18.7 .9 25.5 1.2 -4 .4 -26.3 2.1 14.8 .8 6.7 1.7 4.2 1.3 -20.1 1.6 17.7 .9 -19.2 1.2 -13.5 1.3 26.9 .8 -19.1 1.3 24 1.6 -35.4 .9 39.5 2.5 -4.6 .4 -17.8 1.2 -5.9 .4 22.7 1.3 -25.4 1.2 30.5 1.3 -33.7 1.2 34.7 2.5 -32.2 .5 30.2 1.2 -29.5 1.7 33.2 .8 -31.4 .9 27.5 1.2 -5.2 2.1 -19.9 .4 -4 .8 35.1 2.1 -12.1 1.3 -23.6 1.6 28.2 1.3 -20.5 .4 23.7 1.3 -26.6 1.6 -11.6 1.3 37.9" fill="none" stroke="#7030A0" stroke-width="4.0" stroke-linejoin="round"/>
<path clip-path="url(#c4)" d="M349.1 2227.7l.8 -12.5 .8 18.1 .9 -46.5 1.2 22.3 .4 -39.4 2.9 9.1 .9 -61 .8 -10.5 1.3 -28.1 1.2 39.3 1.7 54.8 1.2 -.9 1.3 47.7 .8 -48.2 1.7 42.9 .8 20.4 1.7 -50.9 .8 40.6 1.7 -18.3 1.7 -11.3 .8 27 .8 -45.1 .4 45.5 2.1 -20 .4 15.6 2.1 1.3 1.3 -12.4 1.2 31.7 1.7 -38.9 .8 10.5 2.1 -21.6 .9 37.2 1.6 -30.6 .9 -2.9 1.6 27.8 .4 -25.4 2.1 24.7 .4 -15.2 1.7 16.1 2.5 -20.4 .4 18.2 1.3 4.1 .4 -28.7 1.7 -8.1 1.6 36.7 .5 -38.3 1.2 32.4 1.3 20.2 1.6 -36.8 .9 -4.7 .8 26.4 1.7 -27.5 1.2 32.5 1.3 -32.5 2 40.5 2.1 -1.6 .5 -31 1.6 15.5 .4 -23.7 1.7 -5.4 1.3 33.7 .4 -17 2.1 28 .4 -9.3 1.6 -25.7 .9 24 2.1 -40.4 .4 -6.3 .8 -30.9 1.7 42.8 .8 41.8 1.7 -4 .8 -30.4 1.7 41.6 2.1 -27.4 .8 5.4 .8 -34 1.7 14.5 .4 42.4 2.5 -29.1 .9 24 .8 -33.8 .4 27.9 2.1 .4 .4 -26.2 2.5 -1.7 1.7 25.3 .4 -9.5 .8 31 1.7 -9.5 .8 -12.4 2.1 -9.9 1.3 23.3 .8 -44.4 .4 46.2 2.9 -8.2 .5 -32.3 2.5 11.3 .8 27.9 .4 -21.5 1.3 21.2 1.6 -2.2 .5 -10.7 1.6 -8.1 .4 18.4 3 -19 1.2 26.4 1.3 -29.8 .4 24.5 2.1 -21.7 .4 23.5 1.2 -35.6 1.7 23.1 1.3 -19.6 1.2 18.2 .8 -24.6 1.7 25.6 .8 -21.9 .5 22.2 2.9 -28.6 .4 33.6 1.2 -5.3 .5 -35.3 2 5.2 1.7 33.1 1.7 -40.9 .8 18.1 1.7 24.3 .4 -45.8 2.1 28.4 .8 -43.4 2.5 25.9 .4 -16.4 .9 10.8 1.6 -46.4 .5 -4.4 .4 27.4 2.1 -13.8 1.6 -28 1.3 4.5 1.6 -24.9 .9 8.7 1.2 -21.6 1.3 22.4 1.2 -37 1.3 -10.5 1.2 19.2 1.7 -10.6 1.3 21.5 1.6 8.3 .4 -32.4 .9 12.5 1.2 21.8 2.5 13.8 .4 -50.2 .9 17.4 1.7 32.7 .8 .1 .4 -28.2 2.9 20.2 .4 -20.5 2.5 -18.9 .5 44.7 .8 .7 2.1 -45.3 1.2 -3.4 .4 42.3 2.5 -49.4 .9 52.6 .8 -35 1.3 -19.2 .8 41.3 .4 -24.9 2.1 -.3 .8 44.2 1.7 -38.2 1.3 28.2 1.6 -16.8 .4 21.7 2.1 -23.5 1.3 18.2 1.6 -10.7 1.3 36.5 1.3 -24.1 .4 29.8 2.5 -20.4 .8 37.8 .4 -36.5 1.7 45.9 .8 -8.9 .4 -20.1 3 9.6 .8 18.8 .8 11.7 .9 -28.5 2 23.3 .5 -16.5 1.6 -18.5 2.1 42.4 1.7 -27.6 .4 32.2 1.7 -33.5 .8 50 1.3 .1 1.6 -33.5 .4 28.9 .9 -27.6 2.5 -9.9 .8 50.8 .8 1 1.7 -30.9 .8 -14.2 .9 37.5 1.7 -15.3 2 17.1 .5 -8.7 2 24.5 .5 -4.8 2 -41.9 .5 11.9 1.2 37.3 1.3 -39.8 1.2 47.5 2.1 -50.7 .4 26.8 1.3 -21.7 2.1 31.8 .4 -11.4 1.2 17.4 1.7 -30.6 .4 46.3 1.7 -39 .8 39.2 2.5 -38.5 1.3 17.6 1.2 -1.6 .8 -27.3 .9 34.3 .8 -38.3 2.1 14.4 .8 37.4 1.3 -48.5 .8 30.1 1.7 -22 2.1 32 .4 1.8 .4 -15.8 2.1 -24.4 2.1 53.1 .8 -34.9 1.3 29.2 2.5 -39.5 .4 26 2.1 -1.3 .4 -15.8 .8 21.7 1.7 -34.3 .8 44 1.3 -22.9 .8 -16.8 1.3 37.2 2 -35.2 1.3 36.4 1.2 -38.7 1.3 25.5 .4 -11.2 2.1 13.7 .8 -24 1.3 32.6 .8 -2.8 1.3 -23.7 1.2 -3.5 .9 30.7 3.3 -9.9 .4 -21.9 1.7 -.2 .4 17.4 .8 -21.9 1.7 28.3 .8 4.1 2.1 -35.9 1.3 1.9 .4 27.3 2.1 .1 .4 -27 2.1 -11.6 .8 39.5 .8 21.5 2.1 -38 .4 -15 .5 31.9 2.5 -23.2 .8 41.8 1.2 -43.3 1.3 42.1 1.2 -41.7 1.7 35.7 1.7 -26.4 .4 11.2 2.9 3 .4 -29.1 .5 6.1 1.6 27.5 1.3 -.3 .8 -31.6 2.5 13.9 .8 19.2 1.3 17.1 .8 -31.9 1.7 11.5 .8 -8.8 2.1 17.4 .4 -32.4 .9 22.3 1.2 -19.4 1.7 5.8 1.7 16.7 1.6 -28.2 .9 25.1 2 -15.6 .5 11.7 2 -18.8 .5 23.1 .4 -35.4 .4 36 2.5 6 1.7 -18.3 1.6 10.8 .5 -32.1 2.5 21.9 .4 13.9 .4 -18.9 1.2 20.4 1.3 -32.8 1.2 23 3 -24.7 .4 42.9 .4 -9.3 1.7 -22.1 1.6 26.8 .5 -29.1 1.6 25 .4 -23.4 3 33.8 .4 -42.9 2.1 14.3 .8 19.5 1.2 -9 .5 -23.4 2.5 3.7 .4 31.3 .8 4 1.7 -27 2.5 -2.3 .4 31 .4 -12.1 2.1 -22.1 1.7 28.4 .8 -32.3 2.1 6 .4 24.5 1.7 -2.4 .4 -14.3 2.1 11.5 .8 -29.4 .8 24.2 1.3 -19.1 1.2 29 .9 -30.3 2.5 -1.1 .4 39.9 1.3 -29.1 1.6 37.8 .4 -43.2 1.7 30.5 1.3 -7.2 .4 -25.7 2.1 11.6 1.2 16.4 1.3 -30 1.2 20.4 .8 10.9 1.7 -27.8 .9 20.5 1.6 -26.3 .9 6.2 .4 16.7 2.5 -17.1 1.2 36 1.3 -10.1 .8 -32.3 1.3 9.9 1.6 40.3 .9 -37.5 2 16.6 .9 7 1.2 -21.4 .9 -11.5 1.6 28.3 .9 -34.2 .8 38.6 2.5 7.2 .4 -27.9 2.9 -10.9 .5 36.7 1.6 -27.6 .9 -33.3 .8 41.3 1.2 -36.5 1.3 5.9 .8 -29.8 1.3 2.6 2.1 32 .4 20 .8 -42.7 2.5 10.5 .9 26.1 .8 -10.2 1.7 47.2 1.2 -20.6 .4 -9.3 1.7 17.6 .4 -30.6 3.8 -2.3 .4 34.7 2.1 5.7 .4 -31.4 1.2 -.1 .5 24.6 2 -.3 .9 -15.7 1.6 28.5 .5 -31.2 2 17.9 1.3 -9.8 1.2 -5.6 1.3 10.9 .8 -20.2 1.7 23.4 .4 -6.6 2.1 -21.2 1.3 29.8 .4 -24 1.6 25.5 .5 -27.6 1.6 18.1 1.3 -26.3 2.1 13.7 .8 -33.9 .8 -1 1.3 30.6 1.6 -21 .9 -33 1.2 15 2.1 -28.4 .4 -27.8 .9 25.3 3.3 -26.1 .4 26.8 .4 -40.2 .5 28.7 2 .5 1.3 -22.9 1.2 17.5 .5 40 2 -25.3 1.7 46.5 .8 -15.5 1.3 20.3 1.7 -19.9 .4 41.8 1.7 -16.7 2 32.8 .5 -37.9 1.6 34.5 2.5 -1.6 .4 -31.6 1.3 41.4 .4 -25.1 1.3 -2.1 .4 43.6 2.1 -15.9 1.6 -24.5 1.3 3.8 1.2 34.8 2.1 -39.1 .9 43.2 .8 -15.3 .4 -19.3 2.1 21.2 1.7 -23.2 .8 3.6 .8 15.7 2.1 -19.1 1.3 18.2 .4 -27.8 2.1 33.5 .8 -3.2 .8 -31.3 1.7 31.1 1.3 -23.2 1.2 13.9 1.3 19.3 2 -13.1 .9 -13.4 .4 -17.6 2.1 52.7 .4 -31.9 2.1 15.1 1.2 -20.7 .9 9.4 1.2 -14.9 1.3 18.7 .8 -21.9 1.3 35.6 2 -34.9 .9 31.9 1.2 -35.2 1.7 35.5 .4 3.8 1.7 -25.4 1.2 1.8 .9 22.7 1.2 -1.5 1.3 -19.8 1.6 -4.3 .5 9.5 2.9 6.9 .4 -12.3 1.7 -6.8 .8 19.7 2.1 -19.1 .4 20.9 1.2 -15.5 1.3 15.9 1.2 -35 1.7 31 .8 -39.3 .9 34.7 2.1 -34.3 1.2 15.3 .4 19.8 .5 -35.1 2 16.6 1.3 17.3 2.1 -29.7 .8 39.7 2.1 -30.2 .8 33.4 1.7 -15.6 .4 -15.6 1.3 13 1.2 21 1.3 .8 .8 -19.7 1.3 -12.3 2 25.6 .9 2.1 .4 -22.4 2.9 -8.3 .4 26.4 1.3 -11.8 .4 -9.9 2.9 1.2 .8 20 1.3 3.1 .8 -22.6 .9 24.2 1.6 -20.4 .9 -4.6 1.2 23.3 1.7 .6 1.7 -23.5 .8 19 .4 -27.4 2.5 34.8 1.3 -18.7 .8 -.7 1.7 15.9 .4 -2.5 1.2 -31 1.7 17.6 .8 17.1 1.3 -22 .8 32.1 1.7 -28.1 .8 17.2 1.7 -12.1 2.1 -18.3 1.2 20.4 1.3 -34.5 .4 40.9 1.2 -38.4 2.5 27.6 .9 -27 1.2 .8 1.3 26.3 .8 -21.7 .4 24.5 1.7 2.5 1.7 -23 1.2 4.1 1.7 27.1 .8 15 .4 -29.2 3 -8.9 .4 28.8 1.2 -13.3 1.3 -24.7 1.7 16 .8 5 1.7 8.5 .4 -27.8 2.5 8 .8 18.3 1.7 -15.6 .8 18 2.1 -15 .4 15.5 .4 -13.5 2.1 19.9 .4 0 .4 -17.2 2.6 10.9 1.6 -18.6 1.7 4.7 .4 22.5 .8 -19.8 1.3 16.4 1.2 -28.2 1.3 23.4 2.9 8.1 .4 -19.9 .4 8.8 .5 -10 2 -13.3 2.1 30.4 .4 6 1.3 -25.5 1.3 19.8 .8 -21.5 2.5 12.8 .8 -12.3 2.1 26.1 .8 -31.9 2.1 33.3 .4 -24.2 .9 14.8 .4 -26.1 1.7 4.1 1.6 24.4 1.7 1 .4 -19.1 1.7 19.2 1.2 -16.9 .9 3.3 .4 -14 2.5 -5.2 1.2 21.9 .9 -14.5 1.2 37.6 2.1 -25.1 1.3 9.6 .4 -6.8 .4 -25.1 2.1 9.9 .4 19.8 2.5 10.5 1.7 -31.3 1.2 30.7 1.3 -23.4 .4 31.7 1.2 -40.3 1.3 -.4 1.2 24.1 1.3 -18.8 .8 21.3 1.7 5.4 2.1 -38.1 .4 4.3 .4 33.5 2.1 -25.7 .4 18.7 2.5 3.3 1.3 -24.8 .8 20.2 2.1 -10.1 .4 8.6 .4 -15.4 2.1 19.9 1.7 -25.2 1.2 -4.9 .9 21.2 2 9.8 1.3 -18.5 1.7 -5 .8 16.4 1.3 6.7 .8 -22.5 2.1 19.3 .8 -20 1.3 29.1 .8 -34.4 2.1 25.4 .4 -14.3 .8 -5.3 2.1 15.1 .8 17.6 .5 -44.8 1.6 34.8 .9 -22.1 2.5 3.4 1.2 19.5 .9 4.2 1.2 -31 1.3 19.6 1.6 -22.4 .9 -2.1 .4 32 1.6 -18.2 1.7 16.9 1.3 14.4 .4 -34 2.9 34 .4 -48.5 .9 21.3 .8 10.4 2.5 -2 .4 -19.6 1.7 4.2 1.2 31.5 1.7 -30.8 .4 21.4 1.7 -2.3 1.2 -24.1 1.7 -5.4 .4 17 1.7 14 1.7 -18.3 .4 -3.1 2.1 20 .4 1.6 1.6 -26.1 .9 28 .8 -27.7 1.7 -5.8 .4 26.3 2.1 8.9 1.2 -25.2 1.7 2.9 .8 26.8 2.1 -31.6 1.3 13.3 .4 -18.8 .4 31.5 2.1 -4.8 2.1 -19.2 .4 -3.2 1.2 28.1 1.7 1.4 .8 -16.2 1.3 -6.8 .8 15.5 1.7 -17 1.7 13.9 .8 7.9 .8 -28.9 3 -3.6 .8 27.9 1.2 -.2 .9 -24 .8 1.4 1.7 34.7 .8 -10 2.1 -27.2 1.7 40.8 .4 -29.1 1.6 -7.5 .5 36.1 2.5 -14.8 .8 -22.9 .4 -1.2 .4 25.1 2.5 -5.7 1.3 -12.9 1.7 27.7 .4 -30.9 2.5 26 .4 -24.6 1.7 17 .8 -22.3 2.1 33.2 .4 -28.2 .8 -.7 .5 24.2 2 1.5 .9 -24.6 1.6 19.9 1.3 -28.4 1.2 43.2 .9 -35.9 2.5 -14.5 1.2 42.4 .4 -3.8 .9 -22.3 2.1 24.4 1.2 -36.1 .8 37.5 .5 -30.9 3.3 2.1 .8 23.4 .9 -7.2 1.6 -16.9 .5 .2 1.6 26.9 .9 -3.6 .8 -15.6 2.5 -8.3 1.2 27.7 1.7 -6.9 .4 -29.3 1.3 12.2 .8 15.8 1.3 -15.5 1.2 21 1.7 -16.9 1.2 15.3 .9 4.3 1.2 -27.9 1.7 28.1 .4 -23 2.5 8.2 .4 -20.1 1.3 39.1 .4 -26.5 2.1 -9.1 2.1 33.9 .4 -19.5 1.2 22.9 1.7 -2.9 1.7 -28.1 .4 30 2.1 -35.3 1.6 17.5 .5 -14.1 .8 9.6 .4 -14.4 2.1 -3 1.2 23.1 1.7 -15.5 .9 27.6 1.6 -3 1.3 -27.7 1.2 .1 .9 18.6 1.6 -14.2 .4 22.3 2.5 -17.2 .5 31.3 1.6 -32.1 1.3 22.7 2.5 .1 .4 -31.8 .4 32.5 2.1 -29.2 .4 .3 .9 9 2.5 15.8 1.2 -31.1 .4 33.5 1.7 -12.8 1.7 -16.4 .8 22.4 1.2 -24 .5 35.8 2 -12.9 1.3 -24.5 2.5 6.2 .4 23.8 .4 -24.8 .5 22.5 2 2.5 1.7 -20.4 .8 14 .5 -19.3 3.7 21.9 .4 -23 2.1 5 .4 22.4 2.1 -5 .4 -16.2 .4 -7.5 .5 23.7 2.1 14.6 2 -28.3 .9 8.2 1.2 -13 1.3 14.6 1.2 -18.7 1.7 28.6 .4 -22.1 2.5 -5.7 .4 24.7 1.7 -28.5 .4 35.9 2.9 -13.1 .5 -23.5 .4 11 1.6 17.6 1.7 -27.5 1.3 26.4 1.2 -17.2 .4 14 2.1 -13.2 1.3 20 .4 .9 1.2 -22.5 1.3 14.7 2.1 -17.1 .4 -1.5 1.2 34.2 1.7 -3.9 1.3 -23.8 1.2 -8.9 .8 22.3 2.1 7.6 1.3 -27.9 .8 4.3 .8 17.1 1.7 -23.3 1.7 24 .4 .7 1.2 -22.4 2.1 -10 .9 32.6 .8 5.5 1.3 -36.9 1.2 33.2 1.3 -37.1 2 41.2 1.3 -15.2 1.7 11.8 .4 -22.5 2.1 -.9 .8 25 .4 -18.2 1.7 18.1 .8 -3.5 1.3 -18.6 2.1 15.9 .4 -15 1.6 -8.6 1.3 26.2 .8 -16.4 .9 27.2 1.6 -16.5 1.7 -10.9 .8 21.7 .9 -26.8 3.3 2.1 .4 15.2 .8 -.5 1.7 -5.6 1.3 19.9 .8 -36.8 1.3 9.3 1.6 23.8 .4 -27.1 .9 27.3 2.1 -3.1 .4 -17.6 2.1 -20.6 .4 27.3 2.5 -21.3 .8 33.6 1.3 -1.2 1.2 -25.8 1.3 19.1 1.2 -12.3 .9 22.1 1.6 -23.1 1.7 -3.4 .4 17.6 1.3 -4.1 2 -14.4 1.3 6.6 1.2 14.8 .5 -28 .8 25.5 2.1 .6 .4 -28.6 1.7 40.7 1.2 -31 2.5 2.9 .4 30.2 2.1 -7.8 .9 -22 .4 13.2 .4 -20.5 2.5 -.7 1.7 21.3 1.2 -16 .4 22.2 1.3 5.2 2.1 -23.9 .4 20.5 1.2 -33.7 1.3 29.1 1.7 -34.5 1.2 33.8 1.7 -22.7 2.1 17 .4 -18 .8 8.9 .4 11.6 2.1 -9.9 1.7 6.8 .8 20.4 1.7 -47 .8 9.6 1.3 27 1.6 -21.5 .9 20.5 1.2 -18.4 .9 14 2 8.5 1.3 -31.1 .4 8.6 2.1 16.6 .4 -1.3 2.1 -23.1 .8 1.3 1.3 12.1 2.1 -9.1 .8 16.3 .8 9.9 .5 -26.5 2.5 28.7 1.2 -26.5 1.7 16.8 .8 -20.9 .4 7.7 1.3 11.7 1.2 -27.6 2.1 35.2 .4 -28.7 2.1 24 .8 3.2 1.7 -27.6 .4 27.4 2.1 -23.9 .4 17 1.3 -23.3 1.2 -.9 1.7 23.9 1.3 -20.4 .4 18.3 1.6 -14 1.3 25 2.5 -5.6 .8 -20.8 1.3 -.1 .8 27.1 1.3 -6.5 .8 -11.1 2.5 12.5 .8 -23.4 .9 31 .4 -25.6 1.7 -9.1 2 33.6 .5 -24.2 .8 25.7 1.7 -6.2 1.2 -19 1.7 20.1 .8 -28.3 1.7 9.2 1.7 25.4 .4 -32.1 1.2 30.7 2.9 -3.1 .5 -22.8 .4 18 .4 -28.2 2.1 -6.3 1.6 31.3 .9 -16.7 .4 18 2.9 -32.1 .4 45.9 3 -31.7 .4 26.6 1.2 -36.1 .9 27.4 2 -30.3 .5 22.1 1.2 -2.9 1.3 -19.2 .8 35.7 1.7 -46.1 .8 2.1 .4 29.5 2.5 -22.9 .4 30.4 2.1 -12 1.3 -17.1 1.6 1.3 .5 36 1.2 -8.7 .4 -21.9 3.4 23.3 .8 -13.5 1.7 19 .4 -26.9 1.2 32.3 1.7 -37.8 .8 30.9 .9 -20.6 2.1 25.1 1.2 -20.3 .4 26.3 .9 -24.9 2 20.5 1.7 -23.1 .8 21 1.7 -24.6 1.3 3.9 1.2 21.2 .8 -25.3 1.3 11.2 .8 6.9 .4 -27.9 2.1 9.6 2.1 18.4 .4 10.7 2.1 -35.5 2.1 5.6 .4 18.4 1.7 -32.1 .8 26.8 2.1 13.6 .4 -35.7 .4 14.8 .9 14.2 1.6 10.1 1.7 -35.5 .8 20.9 .5 -17.7 2.1 27.7 .4 -26.8 2.5 27.8 .8 -24.5 1.3 -3.2 1.6 15.1 1.7 -2.7 1.2 -18.8 .9 20.9 1.2 -23.4 1.3 30.1 1.2 -23.3 .9 6.1 .8 15.4 1.7 -5.6 .4 -15.1 2.5 -12.4 .8 48.3 1.7 -15.9 1.2 -18.5 1.7 2.6 .8 21 .9 -35.8 1.2 31.1 2.5 6.2 .4 -22.1 .9 21.5 .8 -17.1 1.7 1 1.2 17.2 1.3 6.1 1.2 -31.9 3 -9.2 .4 37.2 .8 -1.7 1.7 -20.3 1.2 -10.6 .4 28.7 3 -9.5 .4 -15 .8 -5.8 1.7 31.3 .4 -1.1 1.3 -30.4 1.6 28.6 1.3 -22.3 2.5 17.4 .4 -18.8 1.2 34.9 .5 -24.3 2.5 16.7 .4 -29.3 2.1 14 .4 -9.5 2.1 18 .8 -11.3 .4 -15.8 .4 34.9 2.5 -1.5 1.7 -23.8 1.7 23.5 .8 -23.5 2.1 -15.6 .4 35.3 .4 -23 .4 25.2 2.5 -7.5 1.7 -16.7 1.3 -11.2 .8 37.3 2.5 -19.9 .4 16.9 .4 -18.5 2.1 28.9 1.7 -33.3 .8 20.6 .9 3.9 1.2 -15.5 1.3 10.9 .8 -22.6 1.2 35.9 .9 -30.9 2.5 -7.6 1.2 30 .5 2.7 2 -27.9 .5 18.4 1.6 -16.8 1.3 28.5 .8 -38.2 1.3 29.7 .4 -15.3 2.9 24.9 .8 -32.3 1.7 13.8 1.2 -13 1.7 8.4 .4 16.3 2.1 -3.5 .4 -26.3 .9 6.4 2.1 22.3 .8 13.2 1.2 -41.4 1.3 5.7 .8 13.3 2.5 -23.8 .9 31.1 .8 10.3 .8 -25.5 2.1 -1.5 1.3 18.2 1.6 -23.6 .9 26 .4 -27.8 1.7 24.8 1.2 -20.5 .8 16.2 2.1 4.2 1.3 -37.5 .8 42.7 .8 -22.2 2.5 9.9 .5 -28.1 2 20.6 .9 13.5 .4 -33.1 1.3 33.5 2 -25.9 .5 22.6 2 2.7 1.3 -16.1 .4 -8.6 1.7 31.8 .8 -27.7 .8 20.5 3 13.2 .4 -36.3 .8 -8.6 .8 22.5 3 16.7 .8 -39.1 1.3 14.4 .8 28.9 2.5 -10.3 .4 -25.3 .4 31.2 .4 -27.8 3 -18.2 .8 43.7 .8 -27.1 2.1 15.7 .4 7.6 1.3 -43.2 1.2 14.5 .9 26.9 2.5 -26.3 1.2 27.4 1.3 -34.7 1.2 35 2.1 -8.8 .4 -26.1 1.3 38.5 1.2 -32.7 .4 -5.6 2.1 35.8 .4 -10.2 .5 -28.9 2.5 23.2 .4 -25.8 2.1 15.3 .4 20.9 1.7 -10.6 .4 -22.3 2.1 12.7 1.2 16.5 2.9 -7.7 .4 -10.9 .9 1.7 1.6 11.2 .9 3.6 .4 -13.1 2.1 -11.9 .8 17.2 2.5 -18.3 .9 28.7 1.2 -34 .4 20.6 2.1 13.7 1.3 -26.4 2 0 .5 41.6 .4 -44.7 .8 44.7 1.7 -2.4 .8 -42 1.7 5.2 2.1 34 1.2 -35.7 1.3 30 1.2 -9.7 .9 -28.9 1.6 47 1.3 -28.3 .8 19.7 1.7 -37 .8 2.4 1.7 42.2 1.6 -40.2 .9 12.8 1.2 -19.9 .4 24.6 1.3 -19.1 2.1 34.9 .8 -13.9 1.7 -20.8 2.1 6.1 .4 18.8 .8 -34.5 .9 35 2.5 -20 .4 15.9 .8 10.1 2.1 -37 .8 32.6 .9 -31" fill="none" stroke="#00B0F0" stroke-width="4.0" stroke-linejoin="round"/>
<line x1="564.2" y1="94.0" x2="564.2" y2="2324.0" stroke="#000" stroke-width="4.2" stroke-dasharray="9.5 7.9"/>
<line x1="958.0" y1="104.5" x2="958.0" y2="1365.0" stroke="#000" stroke-width="4.2" stroke-dasharray="9.5 7.9"/>
<line x1="1447.0" y1="292.0" x2="1447.0" y2="1365.0" stroke="#000" stroke-width="4.2" stroke-dasharray="9.5 7.9"/>
<line x1="1874.2" y1="292.0" x2="1874.2" y2="1365.0" stroke="#000" stroke-width="4.2" stroke-dasharray="9.5 7.9"/>
<line x1="530.2" y1="1578.0" x2="530.2" y2="2324.0" stroke="#000" stroke-width="4.2" stroke-dasharray="9.5 7.9"/>
<line x1="863.8" y1="1692.0" x2="863.8" y2="2324.0" stroke="#000" stroke-width="4.2" stroke-dasharray="9.5 7.9"/>
<line x1="907.0" y1="1656.0" x2="907.0" y2="2324.0" stroke="#000" stroke-width="4.2" stroke-dasharray="9.5 7.9"/>
<line x1="925.0" y1="1578.0" x2="925.0" y2="2324.0" stroke="#000" stroke-width="4.2" stroke-dasharray="9.5 7.9"/>
<line x1="1025.3" y1="1686.0" x2="1025.3" y2="2324.0" stroke="#000" stroke-width="4.2" stroke-dasharray="9.5 7.9"/>
<line x1="1091.4" y1="1719.0" x2="1091.4" y2="2324.0" stroke="#000" stroke-width="4.2" stroke-dasharray="9.5 7.9"/>
<line x1="1727.9" y1="1723.0" x2="1727.9" y2="2324.0" stroke="#000" stroke-width="4.2" stroke-dasharray="9.5 7.9"/>
<rect x="342.3" y="45.3" width="1721.7" height="372.9" fill="none" stroke="#000" stroke-width="6.2"/>
<path d="M322.3 418.2H342.3M322.3 343.6H342.3M322.3 269.0H342.3M322.3 194.5H342.3M322.3 119.9H342.3M322.3 45.3H342.3M342.3 418.2V438.2M588.3 418.2V438.2M834.2 418.2V438.2M1080.2 418.2V438.2M1326.1 418.2V438.2M1572.1 418.2V438.2M1818.0 418.2V438.2M2064.0 418.2V438.2" stroke="#000" stroke-width="6.2" fill="none"/>
<rect x="345.4" y="521.0" width="1721.6" height="374.2" fill="none" stroke="#000" stroke-width="6.2"/>
<path d="M325.4 895.2H345.4M325.4 820.4H345.4M325.4 745.5H345.4M325.4 670.7H345.4M325.4 595.8H345.4M325.4 521.0H345.4M345.4 895.2V915.2M591.3 895.2V915.2M837.3 895.2V915.2M1083.2 895.2V915.2M1329.2 895.2V915.2M1575.1 895.2V915.2M1821.1 895.2V915.2M2067.0 895.2V915.2" stroke="#000" stroke-width="6.2" fill="none"/>
<rect x="348.5" y="994.4" width="1721.5" height="373.6" fill="none" stroke="#000" stroke-width="6.2"/>
<path d="M328.5 1368.0H348.5M328.5 1293.3H348.5M328.5 1218.6H348.5M328.5 1143.8H348.5M328.5 1069.1H348.5M328.5 994.4H348.5M348.5 1368.0V1388.0M594.4 1368.0V1388.0M840.4 1368.0V1388.0M1086.3 1368.0V1388.0M1332.2 1368.0V1388.0M1578.1 1368.0V1388.0M1824.1 1368.0V1388.0M2070.0 1368.0V1388.0" stroke="#000" stroke-width="6.2" fill="none"/>
<rect x="348.5" y="1480.0" width="1721.0" height="372.5" fill="none" stroke="#000" stroke-width="6.2"/>
<path d="M328.5 1852.5H348.5M328.5 1778.0H348.5M328.5 1703.5H348.5M328.5 1629.0H348.5M328.5 1554.5H348.5M328.5 1480.0H348.5M348.5 1852.5V1872.5M594.4 1852.5V1872.5M840.2 1852.5V1872.5M1086.1 1852.5V1872.5M1331.9 1852.5V1872.5M1577.8 1852.5V1872.5M1823.6 1852.5V1872.5M2069.5 1852.5V1872.5" stroke="#000" stroke-width="6.2" fill="none"/>
<rect x="347.8" y="1953.0" width="1721.2" height="374.0" fill="none" stroke="#000" stroke-width="6.2"/>
<path d="M327.8 2327.0H347.8M327.8 2252.2H347.8M327.8 2177.4H347.8M327.8 2102.6H347.8M327.8 2027.8H347.8M327.8 1953.0H347.8M347.8 2327.0V2347.0M593.7 2327.0V2347.0M839.6 2327.0V2347.0M1085.5 2327.0V2347.0M1331.3 2327.0V2347.0M1577.2 2327.0V2347.0M1823.1 2327.0V2347.0M2069.0 2327.0V2347.0" stroke="#000" stroke-width="6.2" fill="none"/>
<polygon points="530.0,1526.3 537.2,1545.4 557.6,1546.3 541.6,1559.1 547.0,1578.8 530.0,1567.5 513.0,1578.8 518.4,1559.1 502.4,1546.3 522.8,1545.4" fill="#000"/>
<polygon points="863.0,1641.4 870.2,1660.5 890.6,1661.4 874.6,1674.2 880.0,1693.9 863.0,1682.6 846.0,1693.9 851.4,1674.2 835.4,1661.4 855.8,1660.5" fill="#000"/>
<polygon points="907.0,1605.5 914.2,1624.6 934.6,1625.5 918.6,1638.3 924.0,1658.0 907.0,1646.7 890.0,1658.0 895.4,1638.3 879.4,1625.5 899.8,1624.6" fill="#000"/>
<polygon points="925.0,1526.7 932.2,1545.8 952.6,1546.7 936.6,1559.5 942.0,1579.2 925.0,1567.9 908.0,1579.2 913.4,1559.5 897.4,1546.7 917.8,1545.8" fill="#000"/>
<polygon points="1025.0,1634.6 1032.2,1653.7 1052.6,1654.6 1036.6,1667.4 1042.0,1687.1 1025.0,1675.8 1008.0,1687.1 1013.4,1667.4 997.4,1654.6 1017.8,1653.7" fill="#000"/>
<polygon points="1091.2,1667.7 1098.4,1686.8 1118.8,1687.7 1102.8,1700.5 1108.2,1720.2 1091.2,1708.9 1074.2,1720.2 1079.6,1700.5 1063.6,1687.7 1084.0,1686.8" fill="#000"/>
<polygon points="1727.9,1671.4 1735.1,1690.5 1755.5,1691.4 1739.5,1704.2 1744.9,1723.9 1727.9,1712.6 1710.9,1723.9 1716.3,1704.2 1700.3,1691.4 1720.7,1690.5" fill="#000"/>
<polygon points="1589.2,137.4 1596.4,156.5 1616.8,157.4 1600.8,170.2 1606.2,189.9 1589.2,178.6 1572.2,189.9 1577.6,170.2 1561.6,157.4 1582.0,156.5" fill="#000"/>
<rect x="935.5" y="62.2" width="42" height="42" fill="#000"/>
<rect x="1425.0" y="249.9" width="42" height="42" fill="#000"/>
<rect x="1853.0" y="249.9" width="42" height="42" fill="#000"/>
<rect x="1568.4" y="62.0" width="42" height="42" fill="#000"/>
<text transform="translate(249.0,366.3)" font-size="63.50" letter-spacing="3.00" fill="#000" stroke="#000" stroke-width="2.0">0</text>
<text transform="translate(172.5,291.7)" font-size="63.50" letter-spacing="3.00" fill="#000" stroke="#000" stroke-width="2.0">100</text>
<text transform="translate(172.5,217.2)" font-size="63.50" letter-spacing="3.00" fill="#000" stroke="#000" stroke-width="2.0">200</text>
<text transform="translate(172.5,142.6)" font-size="63.50" letter-spacing="3.00" fill="#000" stroke="#000" stroke-width="2.0">300</text>
<text transform="translate(172.5,68.0)" font-size="63.50" letter-spacing="3.00" fill="#000" stroke="#000" stroke-width="2.0">400</text>
<text transform="translate(251.0,843.1)" font-size="63.50" letter-spacing="3.00" fill="#000" stroke="#000" stroke-width="2.0">0</text>
<text transform="translate(174.5,768.2)" font-size="63.50" letter-spacing="3.00" fill="#000" stroke="#000" stroke-width="2.0">100</text>
<text transform="translate(174.5,693.4)" font-size="63.50" letter-spacing="3.00" fill="#000" stroke="#000" stroke-width="2.0">200</text>
<text transform="translate(174.5,618.5)" font-size="63.50" letter-spacing="3.00" fill="#000" stroke="#000" stroke-width="2.0">300</text>
<text transform="translate(174.5,543.7)" font-size="63.50" letter-spacing="3.00" fill="#000" stroke="#000" stroke-width="2.0">400</text>
<text transform="translate(252.5,1316.0)" font-size="63.50" letter-spacing="3.00" fill="#000" stroke="#000" stroke-width="2.0">0</text>
<text transform="translate(176.0,1241.3)" font-size="63.50" letter-spacing="3.00" fill="#000" stroke="#000" stroke-width="2.0">100</text>
<text transform="translate(176.0,1166.5)" font-size="63.50" letter-spacing="3.00" fill="#000" stroke="#000" stroke-width="2.0">200</text>
<text transform="translate(176.0,1091.8)" font-size="63.50" letter-spacing="3.00" fill="#000" stroke="#000" stroke-width="2.0">300</text>
<text transform="translate(176.0,1017.1)" font-size="63.50" letter-spacing="3.00" fill="#000" stroke="#000" stroke-width="2.0">400</text>
<text transform="translate(252.5,1800.7)" font-size="63.50" letter-spacing="3.00" fill="#000" stroke="#000" stroke-width="2.0">0</text>
<text transform="translate(176.0,1726.2)" font-size="63.50" letter-spacing="3.00" fill="#000" stroke="#000" stroke-width="2.0">100</text>
<text transform="translate(176.0,1651.7)" font-size="63.50" letter-spacing="3.00" fill="#000" stroke="#000" stroke-width="2.0">200</text>
<text transform="translate(176.0,1577.2)" font-size="63.50" letter-spacing="3.00" fill="#000" stroke="#000" stroke-width="2.0">300</text>
<text transform="translate(176.0,1502.7)" font-size="63.50" letter-spacing="3.00" fill="#000" stroke="#000" stroke-width="2.0">400</text>
<text transform="translate(252.5,2274.9)" font-size="63.50" letter-spacing="3.00" fill="#000" stroke="#000" stroke-width="2.0">0</text>
<text transform="translate(176.0,2200.1)" font-size="63.50" letter-spacing="3.00" fill="#000" stroke="#000" stroke-width="2.0">100</text>
<text transform="translate(176.0,2125.3)" font-size="63.50" letter-spacing="3.00" fill="#000" stroke="#000" stroke-width="2.0">200</text>
<text transform="translate(176.0,2050.5)" font-size="63.50" letter-spacing="3.00" fill="#000" stroke="#000" stroke-width="2.0">300</text>
<text transform="translate(176.0,1975.7)" font-size="63.50" letter-spacing="3.00" fill="#000" stroke="#000" stroke-width="2.0">400</text>
<text transform="translate(312.2,2430.4)" font-size="63.50" letter-spacing="3.00" fill="#000" stroke="#000" stroke-width="2.0">20</text>
<text transform="translate(558.4,2430.4)" font-size="63.50" letter-spacing="3.00" fill="#000" stroke="#000" stroke-width="2.0">30</text>
<text transform="translate(805.0,2430.4)" font-size="63.50" letter-spacing="3.00" fill="#000" stroke="#000" stroke-width="2.0">40</text>
<text transform="translate(1050.2,2430.4)" font-size="63.50" letter-spacing="3.00" fill="#000" stroke="#000" stroke-width="2.0">50</text>
<text transform="translate(1295.8,2430.4)" font-size="63.50" letter-spacing="3.00" fill="#000" stroke="#000" stroke-width="2.0">60</text>
<text transform="translate(1541.7,2430.4)" font-size="63.50" letter-spacing="3.00" fill="#000" stroke="#000" stroke-width="2.0">70</text>
<text transform="translate(1787.9,2430.4)" font-size="63.50" letter-spacing="3.00" fill="#000" stroke="#000" stroke-width="2.0">80</text>
<text transform="translate(2033.4,2430.4)" font-size="63.50" letter-spacing="3.00" fill="#000" stroke="#000" stroke-width="2.0">90</text>
<text transform="translate(107.3,1379.0) rotate(-90)" font-size="107.50" font-weight="bold" letter-spacing="-1.20" fill="#000">Intensity</text>
<text transform="translate(1006.4,2534.9)" font-size="105.14" font-weight="bold" fill="#000">2</text>
<text transform="translate(1066.8,2535.6)" font-size="108.87" fill="#000" stroke="#000" stroke-width="0.7">Θ</text>
<text transform="translate(1176.7,2535.6)" font-size="101.81" letter-spacing="1.46" fill="#000" stroke="#000" stroke-width="0.7">[°]</text>
<text transform="translate(1137.7,115.7)" font-size="70.99" letter-spacing="1.10" fill="#EEBD2A" stroke="#EEBD2A" stroke-width="1.4">20°C</text>
<text transform="translate(1130.1,599.5)" font-size="71.41" letter-spacing="1.02" fill="#EEBD2A" stroke="#EEBD2A" stroke-width="1.4">300°C</text>
<text transform="translate(1130.1,1074.3)" font-size="72.54" letter-spacing="0.26" fill="#EEBD2A" stroke="#EEBD2A" stroke-width="1.4">350°C</text>
<text transform="translate(1251.2,1547.4)" font-size="71.27" letter-spacing="1.08" fill="#EEBD2A" stroke="#EEBD2A" stroke-width="1.4">400°C</text>
<text transform="translate(1262.6,2027.4)" font-size="71.41" letter-spacing="1.34" fill="#EEBD2A" stroke="#EEBD2A" stroke-width="1.4">450°C</text>
<text transform="translate(655.1,251.3) rotate(-90)" font-size="57.13" letter-spacing="4.30" fill="#000" stroke="#000" stroke-width="0.7">Si(111)</text>
<text transform="translate(1030.9,224.8) rotate(-90)" font-size="56.70" letter-spacing="4.44" fill="#000" stroke="#000" stroke-width="0.7">(110)</text>
<text transform="translate(1465.5,231.5) rotate(-90)" font-size="56.49" letter-spacing="3.51" fill="#000" stroke="#000" stroke-width="0.7">(200)</text>
<text transform="translate(1893.7,232.6) rotate(-90)" font-size="57.13" letter-spacing="3.44" fill="#000" stroke="#000" stroke-width="0.7">(200)</text>
<text transform="translate(1637.2,105.1)" font-size="60.42" letter-spacing="5.88" fill="#000" stroke="#000" stroke-width="0.7">Cr</text>
<text transform="translate(1634.5,187.9)" font-size="58.78" letter-spacing="3.18" fill="#000" stroke="#000" stroke-width="0.7">CrSi</text>
<text transform="translate(1757.9,192.1)" font-size="37.57" fill="#000" stroke="#000" stroke-width="0.7">2</text>
<text transform="translate(490.0,1653.9) rotate(-90)" font-size="60.32" letter-spacing="1.60" fill="#000" stroke="#000" stroke-width="0.7">(101)</text>
<text transform="translate(822.9,1724.9) rotate(-90)" font-size="55.96" letter-spacing="3.79" fill="#000" stroke="#000" stroke-width="0.7">(110)</text>
<text transform="translate(882.2,1626.7) rotate(-90)" font-size="56.70" letter-spacing="2.90" fill="#000" stroke="#000" stroke-width="0.7">(003)</text>
<text transform="translate(997.6,1625.0) rotate(-90)" font-size="56.91" letter-spacing="4.56" fill="#000" stroke="#000" stroke-width="0.7">(111)</text>
<text transform="translate(1063.9,1635.8) rotate(-90)" font-size="56.81" letter-spacing="2.66" fill="#000" stroke="#000" stroke-width="0.7">(200)</text>
<text transform="translate(1164.7,1714.5) rotate(-90)" font-size="59.89" letter-spacing="2.93" fill="#000" stroke="#000" stroke-width="0.7">(112)</text>
<text transform="translate(1808.5,1718.4) rotate(-90)" font-size="56.91" letter-spacing="3.55" fill="#000" stroke="#000" stroke-width="0.7">(301)</text>
</svg></body></html>
